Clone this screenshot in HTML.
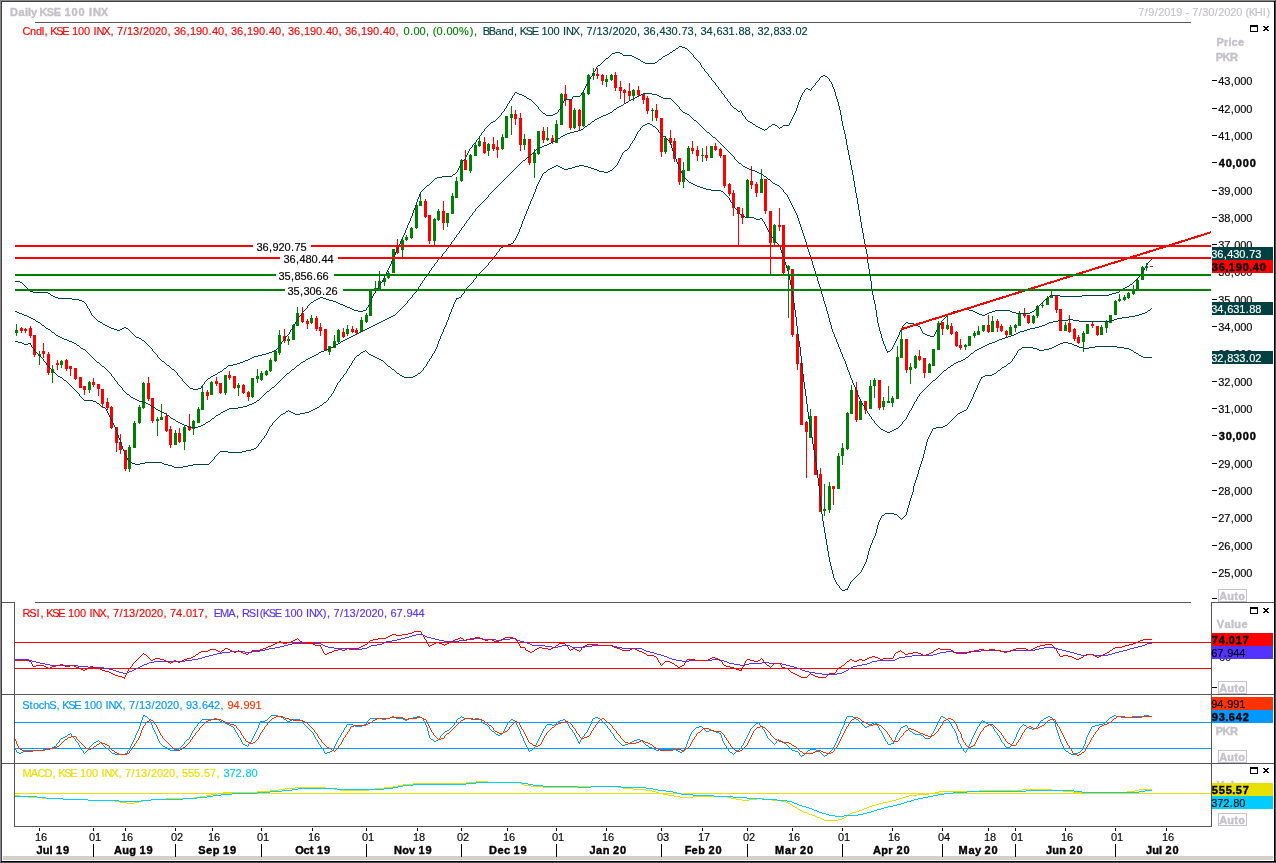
<!DOCTYPE html>
<html lang="en"><head><meta charset="utf-8"><title>Daily KSE 100 INX</title>
<style>html,body{margin:0;padding:0;background:#fff;overflow:hidden}svg{display:block}text{font-family:"Liberation Sans","DejaVu Sans",sans-serif;font-size:11px;white-space:pre}</style></head><body>
<svg width="1276" height="863" viewBox="0 0 1276 863">
<rect x="0" y="0" width="1276" height="863" fill="#ffffff"/>
<g shape-rendering="crispEdges">
<rect x="0" y="0" width="1276" height="1" fill="#8a868c"/>
<rect x="1" y="1" width="1275" height="1" fill="#404040"/>
<rect x="0" y="0" width="1" height="863" fill="#8a868c"/>
<rect x="1" y="1" width="1" height="862" fill="#404040"/>
<rect x="3" y="856" width="1270" height="4" fill="#d4d0c8"/>
<rect x="1274" y="1" width="1" height="862" fill="#000000"/>
<rect x="1275" y="0" width="1" height="863" fill="#4c4a58"/>
<rect x="1" y="861" width="1275" height="1" fill="#000000"/>
<rect x="0" y="862" width="1276" height="1" fill="#4c4a58"/>
<rect x="35" y="22" width="1156" height="1" fill="#555555"/>
<rect x="2" y="602" width="13" height="1" fill="#555555"/>
<rect x="35" y="602" width="1156" height="1" fill="#555555"/>
<rect x="1211" y="602" width="63" height="1" fill="#555555"/>
<rect x="2" y="694" width="1272" height="1" fill="#555555"/>
<rect x="2" y="763" width="1272" height="1" fill="#555555"/>
<rect x="14" y="826" width="1198" height="1" fill="#555555"/>
<rect x="14" y="602" width="1" height="225" fill="#555555"/>
<rect x="1211" y="602" width="1" height="225" fill="#555555"/>
</g>
<g shape-rendering="crispEdges">
<rect x="16" y="324" width="1" height="12" fill="#008000"/>
<rect x="15" y="330" width="3" height="3" fill="#008000"/>
<rect x="21" y="327" width="1" height="6" fill="#ff0000"/>
<rect x="20" y="328" width="3" height="3" fill="#ff0000"/>
<rect x="25" y="328" width="1" height="5" fill="#ff0000"/>
<rect x="24" y="329" width="3" height="2" fill="#ff0000"/>
<rect x="30" y="326" width="1" height="12" fill="#ff0000"/>
<rect x="29" y="328" width="3" height="8" fill="#ff0000"/>
<rect x="34" y="335" width="1" height="22" fill="#ff0000"/>
<rect x="33" y="335" width="3" height="20" fill="#ff0000"/>
<rect x="39" y="351" width="1" height="14" fill="#008000"/>
<rect x="38" y="354" width="3" height="2" fill="#008000"/>
<rect x="43" y="343" width="1" height="15" fill="#ff0000"/>
<rect x="42" y="351" width="3" height="3" fill="#ff0000"/>
<rect x="48" y="352" width="1" height="23" fill="#ff0000"/>
<rect x="47" y="354" width="3" height="19" fill="#ff0000"/>
<rect x="52" y="365" width="1" height="18" fill="#008000"/>
<rect x="51" y="369" width="3" height="4" fill="#008000"/>
<rect x="57" y="360" width="1" height="10" fill="#ff0000"/>
<rect x="56" y="363" width="3" height="2" fill="#ff0000"/>
<rect x="61" y="360" width="1" height="8" fill="#008000"/>
<rect x="60" y="361" width="3" height="4" fill="#008000"/>
<rect x="66" y="359" width="1" height="12" fill="#ff0000"/>
<rect x="65" y="360" width="3" height="9" fill="#ff0000"/>
<rect x="70" y="366" width="1" height="10" fill="#ff0000"/>
<rect x="69" y="366" width="3" height="3" fill="#ff0000"/>
<rect x="75" y="368" width="1" height="12" fill="#ff0000"/>
<rect x="74" y="368" width="3" height="11" fill="#ff0000"/>
<rect x="80" y="377" width="1" height="11" fill="#ff0000"/>
<rect x="79" y="377" width="3" height="11" fill="#ff0000"/>
<rect x="84" y="386" width="1" height="9" fill="#ff0000"/>
<rect x="83" y="386" width="3" height="4" fill="#ff0000"/>
<rect x="89" y="381" width="1" height="12" fill="#008000"/>
<rect x="88" y="382" width="3" height="8" fill="#008000"/>
<rect x="93" y="378" width="1" height="9" fill="#ff0000"/>
<rect x="92" y="382" width="3" height="3" fill="#ff0000"/>
<rect x="98" y="384" width="1" height="12" fill="#ff0000"/>
<rect x="97" y="384" width="3" height="5" fill="#ff0000"/>
<rect x="102" y="389" width="1" height="19" fill="#ff0000"/>
<rect x="101" y="389" width="3" height="15" fill="#ff0000"/>
<rect x="107" y="398" width="1" height="12" fill="#ff0000"/>
<rect x="106" y="402" width="3" height="6" fill="#ff0000"/>
<rect x="111" y="406" width="1" height="23" fill="#ff0000"/>
<rect x="110" y="407" width="3" height="21" fill="#ff0000"/>
<rect x="116" y="427" width="1" height="25" fill="#ff0000"/>
<rect x="115" y="427" width="3" height="16" fill="#ff0000"/>
<rect x="120" y="434" width="1" height="20" fill="#ff0000"/>
<rect x="119" y="442" width="3" height="8" fill="#ff0000"/>
<rect x="125" y="450" width="1" height="21" fill="#ff0000"/>
<rect x="124" y="450" width="3" height="19" fill="#ff0000"/>
<rect x="129" y="445" width="1" height="27" fill="#008000"/>
<rect x="128" y="447" width="3" height="22" fill="#008000"/>
<rect x="134" y="421" width="1" height="27" fill="#008000"/>
<rect x="133" y="423" width="3" height="25" fill="#008000"/>
<rect x="139" y="405" width="1" height="19" fill="#008000"/>
<rect x="138" y="407" width="3" height="16" fill="#008000"/>
<rect x="143" y="382" width="1" height="27" fill="#008000"/>
<rect x="142" y="383" width="3" height="25" fill="#008000"/>
<rect x="148" y="377" width="1" height="24" fill="#ff0000"/>
<rect x="147" y="383" width="3" height="16" fill="#ff0000"/>
<rect x="152" y="398" width="1" height="25" fill="#ff0000"/>
<rect x="151" y="398" width="3" height="23" fill="#ff0000"/>
<rect x="157" y="417" width="1" height="19" fill="#008000"/>
<rect x="156" y="419" width="3" height="2" fill="#008000"/>
<rect x="161" y="404" width="1" height="16" fill="#008000"/>
<rect x="160" y="417" width="3" height="3" fill="#008000"/>
<rect x="166" y="413" width="1" height="19" fill="#ff0000"/>
<rect x="165" y="416" width="3" height="15" fill="#ff0000"/>
<rect x="170" y="426" width="1" height="22" fill="#ff0000"/>
<rect x="169" y="429" width="3" height="16" fill="#ff0000"/>
<rect x="175" y="430" width="1" height="15" fill="#008000"/>
<rect x="174" y="433" width="3" height="12" fill="#008000"/>
<rect x="179" y="428" width="1" height="15" fill="#ff0000"/>
<rect x="178" y="433" width="3" height="9" fill="#ff0000"/>
<rect x="184" y="425" width="1" height="25" fill="#008000"/>
<rect x="183" y="427" width="3" height="15" fill="#008000"/>
<rect x="189" y="414" width="1" height="17" fill="#ff0000"/>
<rect x="188" y="426" width="3" height="4" fill="#ff0000"/>
<rect x="193" y="420" width="1" height="15" fill="#008000"/>
<rect x="192" y="421" width="3" height="8" fill="#008000"/>
<rect x="198" y="407" width="1" height="16" fill="#008000"/>
<rect x="197" y="409" width="3" height="14" fill="#008000"/>
<rect x="202" y="386" width="1" height="24" fill="#008000"/>
<rect x="201" y="392" width="3" height="18" fill="#008000"/>
<rect x="207" y="390" width="1" height="10" fill="#ff0000"/>
<rect x="206" y="392" width="3" height="4" fill="#ff0000"/>
<rect x="211" y="381" width="1" height="14" fill="#008000"/>
<rect x="210" y="382" width="3" height="13" fill="#008000"/>
<rect x="216" y="377" width="1" height="9" fill="#ff0000"/>
<rect x="215" y="381" width="3" height="3" fill="#ff0000"/>
<rect x="220" y="383" width="1" height="11" fill="#ff0000"/>
<rect x="219" y="383" width="3" height="10" fill="#ff0000"/>
<rect x="225" y="375" width="1" height="20" fill="#008000"/>
<rect x="224" y="375" width="3" height="18" fill="#008000"/>
<rect x="229" y="371" width="1" height="9" fill="#ff0000"/>
<rect x="228" y="375" width="3" height="3" fill="#ff0000"/>
<rect x="234" y="376" width="1" height="13" fill="#ff0000"/>
<rect x="233" y="376" width="3" height="12" fill="#ff0000"/>
<rect x="238" y="383" width="1" height="13" fill="#008000"/>
<rect x="237" y="385" width="3" height="3" fill="#008000"/>
<rect x="243" y="384" width="1" height="10" fill="#ff0000"/>
<rect x="242" y="385" width="3" height="8" fill="#ff0000"/>
<rect x="248" y="391" width="1" height="10" fill="#ff0000"/>
<rect x="247" y="392" width="3" height="5" fill="#ff0000"/>
<rect x="252" y="378" width="1" height="20" fill="#008000"/>
<rect x="251" y="378" width="3" height="19" fill="#008000"/>
<rect x="257" y="369" width="1" height="14" fill="#008000"/>
<rect x="256" y="376" width="3" height="3" fill="#008000"/>
<rect x="261" y="371" width="1" height="10" fill="#008000"/>
<rect x="260" y="373" width="3" height="7" fill="#008000"/>
<rect x="266" y="370" width="1" height="6" fill="#008000"/>
<rect x="265" y="371" width="3" height="4" fill="#008000"/>
<rect x="270" y="358" width="1" height="14" fill="#008000"/>
<rect x="269" y="360" width="3" height="11" fill="#008000"/>
<rect x="275" y="351" width="1" height="11" fill="#008000"/>
<rect x="274" y="351" width="3" height="10" fill="#008000"/>
<rect x="279" y="330" width="1" height="25" fill="#008000"/>
<rect x="278" y="335" width="3" height="18" fill="#008000"/>
<rect x="284" y="329" width="1" height="14" fill="#ff0000"/>
<rect x="283" y="336" width="3" height="5" fill="#ff0000"/>
<rect x="288" y="336" width="1" height="9" fill="#008000"/>
<rect x="287" y="339" width="3" height="2" fill="#008000"/>
<rect x="293" y="324" width="1" height="16" fill="#008000"/>
<rect x="292" y="325" width="3" height="15" fill="#008000"/>
<rect x="297" y="307" width="1" height="19" fill="#008000"/>
<rect x="296" y="313" width="3" height="13" fill="#008000"/>
<rect x="302" y="307" width="1" height="16" fill="#ff0000"/>
<rect x="301" y="313" width="3" height="9" fill="#ff0000"/>
<rect x="307" y="319" width="1" height="10" fill="#ff0000"/>
<rect x="306" y="321" width="3" height="3" fill="#ff0000"/>
<rect x="311" y="315" width="1" height="9" fill="#008000"/>
<rect x="310" y="318" width="3" height="5" fill="#008000"/>
<rect x="316" y="316" width="1" height="15" fill="#ff0000"/>
<rect x="315" y="318" width="3" height="11" fill="#ff0000"/>
<rect x="320" y="323" width="1" height="13" fill="#ff0000"/>
<rect x="319" y="327" width="3" height="4" fill="#ff0000"/>
<rect x="325" y="329" width="1" height="22" fill="#ff0000"/>
<rect x="324" y="329" width="3" height="22" fill="#ff0000"/>
<rect x="329" y="346" width="1" height="9" fill="#008000"/>
<rect x="328" y="346" width="3" height="6" fill="#008000"/>
<rect x="334" y="335" width="1" height="13" fill="#008000"/>
<rect x="333" y="341" width="3" height="7" fill="#008000"/>
<rect x="338" y="329" width="1" height="14" fill="#008000"/>
<rect x="337" y="330" width="3" height="12" fill="#008000"/>
<rect x="343" y="328" width="1" height="10" fill="#ff0000"/>
<rect x="342" y="332" width="3" height="5" fill="#ff0000"/>
<rect x="347" y="325" width="1" height="11" fill="#008000"/>
<rect x="346" y="329" width="3" height="5" fill="#008000"/>
<rect x="352" y="326" width="1" height="7" fill="#ff0000"/>
<rect x="351" y="329" width="3" height="3" fill="#ff0000"/>
<rect x="356" y="328" width="1" height="7" fill="#ff0000"/>
<rect x="355" y="330" width="3" height="3" fill="#ff0000"/>
<rect x="361" y="317" width="1" height="15" fill="#008000"/>
<rect x="360" y="320" width="3" height="12" fill="#008000"/>
<rect x="366" y="313" width="1" height="10" fill="#008000"/>
<rect x="365" y="315" width="3" height="7" fill="#008000"/>
<rect x="370" y="290" width="1" height="26" fill="#008000"/>
<rect x="369" y="290" width="3" height="26" fill="#008000"/>
<rect x="375" y="281" width="1" height="12" fill="#008000"/>
<rect x="374" y="288" width="3" height="3" fill="#008000"/>
<rect x="379" y="271" width="1" height="19" fill="#008000"/>
<rect x="378" y="281" width="3" height="9" fill="#008000"/>
<rect x="384" y="276" width="1" height="10" fill="#008000"/>
<rect x="383" y="278" width="3" height="4" fill="#008000"/>
<rect x="388" y="271" width="1" height="8" fill="#008000"/>
<rect x="387" y="273" width="3" height="5" fill="#008000"/>
<rect x="393" y="249" width="1" height="24" fill="#008000"/>
<rect x="392" y="249" width="3" height="24" fill="#008000"/>
<rect x="397" y="239" width="1" height="15" fill="#ff0000"/>
<rect x="396" y="245" width="3" height="8" fill="#ff0000"/>
<rect x="402" y="239" width="1" height="18" fill="#008000"/>
<rect x="401" y="240" width="3" height="10" fill="#008000"/>
<rect x="406" y="235" width="1" height="6" fill="#008000"/>
<rect x="405" y="237" width="3" height="3" fill="#008000"/>
<rect x="411" y="227" width="1" height="12" fill="#008000"/>
<rect x="410" y="228" width="3" height="10" fill="#008000"/>
<rect x="416" y="204" width="1" height="25" fill="#008000"/>
<rect x="415" y="205" width="3" height="23" fill="#008000"/>
<rect x="420" y="194" width="1" height="12" fill="#008000"/>
<rect x="419" y="201" width="3" height="5" fill="#008000"/>
<rect x="425" y="199" width="1" height="19" fill="#ff0000"/>
<rect x="424" y="201" width="3" height="16" fill="#ff0000"/>
<rect x="429" y="215" width="1" height="29" fill="#ff0000"/>
<rect x="428" y="215" width="3" height="26" fill="#ff0000"/>
<rect x="434" y="218" width="1" height="27" fill="#008000"/>
<rect x="433" y="219" width="3" height="22" fill="#008000"/>
<rect x="438" y="209" width="1" height="12" fill="#008000"/>
<rect x="437" y="211" width="3" height="9" fill="#008000"/>
<rect x="443" y="201" width="1" height="29" fill="#ff0000"/>
<rect x="442" y="211" width="3" height="12" fill="#ff0000"/>
<rect x="447" y="213" width="1" height="14" fill="#008000"/>
<rect x="446" y="213" width="3" height="10" fill="#008000"/>
<rect x="452" y="193" width="1" height="21" fill="#008000"/>
<rect x="451" y="196" width="3" height="18" fill="#008000"/>
<rect x="456" y="177" width="1" height="21" fill="#008000"/>
<rect x="455" y="181" width="3" height="17" fill="#008000"/>
<rect x="461" y="159" width="1" height="23" fill="#008000"/>
<rect x="460" y="160" width="3" height="21" fill="#008000"/>
<rect x="465" y="150" width="1" height="20" fill="#ff0000"/>
<rect x="464" y="160" width="3" height="10" fill="#ff0000"/>
<rect x="470" y="154" width="1" height="19" fill="#008000"/>
<rect x="469" y="155" width="3" height="16" fill="#008000"/>
<rect x="475" y="143" width="1" height="13" fill="#008000"/>
<rect x="474" y="145" width="3" height="11" fill="#008000"/>
<rect x="479" y="136" width="1" height="11" fill="#008000"/>
<rect x="478" y="141" width="3" height="5" fill="#008000"/>
<rect x="484" y="137" width="1" height="17" fill="#ff0000"/>
<rect x="483" y="142" width="3" height="11" fill="#ff0000"/>
<rect x="488" y="143" width="1" height="13" fill="#008000"/>
<rect x="487" y="144" width="3" height="7" fill="#008000"/>
<rect x="493" y="137" width="1" height="14" fill="#ff0000"/>
<rect x="492" y="144" width="3" height="5" fill="#ff0000"/>
<rect x="497" y="140" width="1" height="18" fill="#ff0000"/>
<rect x="496" y="147" width="3" height="3" fill="#ff0000"/>
<rect x="502" y="134" width="1" height="16" fill="#008000"/>
<rect x="501" y="137" width="3" height="12" fill="#008000"/>
<rect x="506" y="116" width="1" height="22" fill="#008000"/>
<rect x="505" y="116" width="3" height="22" fill="#008000"/>
<rect x="511" y="106" width="1" height="29" fill="#008000"/>
<rect x="510" y="114" width="3" height="4" fill="#008000"/>
<rect x="515" y="110" width="1" height="15" fill="#ff0000"/>
<rect x="514" y="114" width="3" height="5" fill="#ff0000"/>
<rect x="520" y="113" width="1" height="38" fill="#ff0000"/>
<rect x="519" y="118" width="3" height="27" fill="#ff0000"/>
<rect x="524" y="134" width="1" height="16" fill="#008000"/>
<rect x="523" y="139" width="3" height="6" fill="#008000"/>
<rect x="529" y="139" width="1" height="26" fill="#ff0000"/>
<rect x="528" y="139" width="3" height="24" fill="#ff0000"/>
<rect x="534" y="149" width="1" height="29" fill="#008000"/>
<rect x="533" y="153" width="3" height="10" fill="#008000"/>
<rect x="538" y="131" width="1" height="24" fill="#008000"/>
<rect x="537" y="131" width="3" height="23" fill="#008000"/>
<rect x="543" y="127" width="1" height="16" fill="#ff0000"/>
<rect x="542" y="131" width="3" height="9" fill="#ff0000"/>
<rect x="547" y="127" width="1" height="14" fill="#008000"/>
<rect x="546" y="138" width="3" height="2" fill="#008000"/>
<rect x="552" y="135" width="1" height="9" fill="#ff0000"/>
<rect x="551" y="138" width="3" height="4" fill="#ff0000"/>
<rect x="556" y="120" width="1" height="23" fill="#008000"/>
<rect x="555" y="124" width="3" height="19" fill="#008000"/>
<rect x="561" y="93" width="1" height="32" fill="#008000"/>
<rect x="560" y="94" width="3" height="31" fill="#008000"/>
<rect x="565" y="85" width="1" height="21" fill="#ff0000"/>
<rect x="564" y="94" width="3" height="6" fill="#ff0000"/>
<rect x="570" y="99" width="1" height="31" fill="#ff0000"/>
<rect x="569" y="99" width="3" height="29" fill="#ff0000"/>
<rect x="574" y="108" width="1" height="21" fill="#008000"/>
<rect x="573" y="110" width="3" height="18" fill="#008000"/>
<rect x="579" y="109" width="1" height="22" fill="#ff0000"/>
<rect x="578" y="110" width="3" height="16" fill="#ff0000"/>
<rect x="583" y="92" width="1" height="35" fill="#008000"/>
<rect x="582" y="93" width="3" height="33" fill="#008000"/>
<rect x="588" y="74" width="1" height="21" fill="#008000"/>
<rect x="587" y="75" width="3" height="19" fill="#008000"/>
<rect x="593" y="68" width="1" height="12" fill="#008000"/>
<rect x="592" y="73" width="3" height="3" fill="#008000"/>
<rect x="597" y="68" width="1" height="11" fill="#ff0000"/>
<rect x="596" y="74" width="3" height="2" fill="#ff0000"/>
<rect x="602" y="74" width="1" height="11" fill="#ff0000"/>
<rect x="601" y="75" width="3" height="6" fill="#ff0000"/>
<rect x="606" y="75" width="1" height="12" fill="#008000"/>
<rect x="605" y="79" width="3" height="3" fill="#008000"/>
<rect x="611" y="74" width="1" height="7" fill="#008000"/>
<rect x="610" y="75" width="3" height="5" fill="#008000"/>
<rect x="615" y="72" width="1" height="19" fill="#ff0000"/>
<rect x="614" y="75" width="3" height="13" fill="#ff0000"/>
<rect x="620" y="81" width="1" height="18" fill="#ff0000"/>
<rect x="619" y="87" width="3" height="4" fill="#ff0000"/>
<rect x="624" y="89" width="1" height="14" fill="#ff0000"/>
<rect x="623" y="90" width="3" height="3" fill="#ff0000"/>
<rect x="629" y="83" width="1" height="17" fill="#ff0000"/>
<rect x="628" y="91" width="3" height="5" fill="#ff0000"/>
<rect x="633" y="89" width="1" height="12" fill="#008000"/>
<rect x="632" y="90" width="3" height="6" fill="#008000"/>
<rect x="638" y="86" width="1" height="10" fill="#ff0000"/>
<rect x="637" y="90" width="3" height="5" fill="#ff0000"/>
<rect x="643" y="93" width="1" height="11" fill="#ff0000"/>
<rect x="642" y="94" width="3" height="6" fill="#ff0000"/>
<rect x="647" y="96" width="1" height="18" fill="#ff0000"/>
<rect x="646" y="98" width="3" height="13" fill="#ff0000"/>
<rect x="652" y="108" width="1" height="13" fill="#008000"/>
<rect x="651" y="110" width="3" height="1" fill="#008000"/>
<rect x="656" y="104" width="1" height="17" fill="#ff0000"/>
<rect x="655" y="110" width="3" height="8" fill="#ff0000"/>
<rect x="661" y="118" width="1" height="39" fill="#ff0000"/>
<rect x="660" y="118" width="3" height="34" fill="#ff0000"/>
<rect x="665" y="136" width="1" height="18" fill="#008000"/>
<rect x="664" y="138" width="3" height="14" fill="#008000"/>
<rect x="670" y="130" width="1" height="15" fill="#ff0000"/>
<rect x="669" y="138" width="3" height="5" fill="#ff0000"/>
<rect x="674" y="138" width="1" height="24" fill="#ff0000"/>
<rect x="673" y="141" width="3" height="18" fill="#ff0000"/>
<rect x="679" y="158" width="1" height="27" fill="#ff0000"/>
<rect x="678" y="158" width="3" height="24" fill="#ff0000"/>
<rect x="683" y="162" width="1" height="26" fill="#008000"/>
<rect x="682" y="170" width="3" height="12" fill="#008000"/>
<rect x="688" y="146" width="1" height="25" fill="#008000"/>
<rect x="687" y="148" width="3" height="23" fill="#008000"/>
<rect x="692" y="141" width="1" height="13" fill="#ff0000"/>
<rect x="691" y="148" width="3" height="3" fill="#ff0000"/>
<rect x="697" y="146" width="1" height="15" fill="#ff0000"/>
<rect x="696" y="150" width="3" height="6" fill="#ff0000"/>
<rect x="702" y="148" width="1" height="14" fill="#008000"/>
<rect x="701" y="155" width="3" height="1" fill="#008000"/>
<rect x="706" y="146" width="1" height="15" fill="#ff0000"/>
<rect x="705" y="155" width="3" height="3" fill="#ff0000"/>
<rect x="711" y="146" width="1" height="12" fill="#008000"/>
<rect x="710" y="146" width="3" height="12" fill="#008000"/>
<rect x="715" y="143" width="1" height="8" fill="#ff0000"/>
<rect x="714" y="146" width="3" height="4" fill="#ff0000"/>
<rect x="720" y="148" width="1" height="10" fill="#ff0000"/>
<rect x="719" y="149" width="3" height="7" fill="#ff0000"/>
<rect x="724" y="155" width="1" height="33" fill="#ff0000"/>
<rect x="723" y="155" width="3" height="31" fill="#ff0000"/>
<rect x="729" y="183" width="1" height="13" fill="#ff0000"/>
<rect x="728" y="184" width="3" height="10" fill="#ff0000"/>
<rect x="733" y="190" width="1" height="26" fill="#ff0000"/>
<rect x="732" y="193" width="3" height="15" fill="#ff0000"/>
<rect x="738" y="207" width="1" height="38" fill="#ff0000"/>
<rect x="737" y="207" width="3" height="7" fill="#ff0000"/>
<rect x="742" y="208" width="1" height="16" fill="#ff0000"/>
<rect x="741" y="214" width="3" height="4" fill="#ff0000"/>
<rect x="747" y="179" width="1" height="39" fill="#008000"/>
<rect x="746" y="180" width="3" height="37" fill="#008000"/>
<rect x="751" y="166" width="1" height="23" fill="#ff0000"/>
<rect x="750" y="181" width="3" height="4" fill="#ff0000"/>
<rect x="756" y="182" width="1" height="15" fill="#ff0000"/>
<rect x="755" y="184" width="3" height="9" fill="#ff0000"/>
<rect x="761" y="169" width="1" height="24" fill="#008000"/>
<rect x="760" y="179" width="3" height="14" fill="#008000"/>
<rect x="765" y="179" width="1" height="35" fill="#ff0000"/>
<rect x="764" y="179" width="3" height="32" fill="#ff0000"/>
<rect x="770" y="211" width="1" height="63" fill="#ff0000"/>
<rect x="769" y="211" width="3" height="32" fill="#ff0000"/>
<rect x="774" y="224" width="1" height="21" fill="#008000"/>
<rect x="773" y="225" width="3" height="18" fill="#008000"/>
<rect x="779" y="208" width="1" height="23" fill="#ff0000"/>
<rect x="778" y="225" width="3" height="2" fill="#ff0000"/>
<rect x="783" y="225" width="1" height="49" fill="#ff0000"/>
<rect x="782" y="225" width="3" height="48" fill="#ff0000"/>
<rect x="788" y="265" width="1" height="53" fill="#008000"/>
<rect x="787" y="266" width="3" height="4" fill="#008000"/>
<rect x="792" y="269" width="1" height="68" fill="#ff0000"/>
<rect x="791" y="269" width="3" height="66" fill="#ff0000"/>
<rect x="797" y="334" width="1" height="36" fill="#ff0000"/>
<rect x="796" y="334" width="3" height="30" fill="#ff0000"/>
<rect x="801" y="363" width="1" height="62" fill="#ff0000"/>
<rect x="800" y="363" width="3" height="62" fill="#ff0000"/>
<rect x="806" y="421" width="1" height="57" fill="#ff0000"/>
<rect x="805" y="422" width="3" height="10" fill="#ff0000"/>
<rect x="810" y="409" width="1" height="29" fill="#008000"/>
<rect x="809" y="416" width="3" height="22" fill="#008000"/>
<rect x="815" y="416" width="1" height="59" fill="#ff0000"/>
<rect x="814" y="416" width="3" height="59" fill="#ff0000"/>
<rect x="820" y="468" width="1" height="44" fill="#ff0000"/>
<rect x="819" y="474" width="3" height="38" fill="#ff0000"/>
<rect x="824" y="484" width="1" height="32" fill="#008000"/>
<rect x="823" y="509" width="3" height="2" fill="#008000"/>
<rect x="829" y="482" width="1" height="31" fill="#008000"/>
<rect x="828" y="486" width="3" height="24" fill="#008000"/>
<rect x="833" y="486" width="1" height="19" fill="#ff0000"/>
<rect x="832" y="486" width="3" height="3" fill="#ff0000"/>
<rect x="838" y="453" width="1" height="36" fill="#008000"/>
<rect x="837" y="456" width="3" height="33" fill="#008000"/>
<rect x="842" y="443" width="1" height="22" fill="#008000"/>
<rect x="841" y="448" width="3" height="8" fill="#008000"/>
<rect x="847" y="412" width="1" height="38" fill="#008000"/>
<rect x="846" y="413" width="3" height="36" fill="#008000"/>
<rect x="851" y="385" width="1" height="29" fill="#008000"/>
<rect x="850" y="390" width="3" height="24" fill="#008000"/>
<rect x="856" y="382" width="1" height="40" fill="#ff0000"/>
<rect x="855" y="390" width="3" height="30" fill="#ff0000"/>
<rect x="860" y="401" width="1" height="19" fill="#008000"/>
<rect x="859" y="401" width="3" height="19" fill="#008000"/>
<rect x="865" y="401" width="1" height="13" fill="#ff0000"/>
<rect x="864" y="401" width="3" height="9" fill="#ff0000"/>
<rect x="870" y="380" width="1" height="29" fill="#008000"/>
<rect x="869" y="386" width="3" height="23" fill="#008000"/>
<rect x="874" y="378" width="1" height="20" fill="#008000"/>
<rect x="873" y="380" width="3" height="6" fill="#008000"/>
<rect x="879" y="380" width="1" height="30" fill="#ff0000"/>
<rect x="878" y="380" width="3" height="28" fill="#ff0000"/>
<rect x="883" y="397" width="1" height="13" fill="#008000"/>
<rect x="882" y="401" width="3" height="6" fill="#008000"/>
<rect x="888" y="386" width="1" height="17" fill="#008000"/>
<rect x="887" y="401" width="3" height="2" fill="#008000"/>
<rect x="892" y="396" width="1" height="11" fill="#008000"/>
<rect x="891" y="398" width="3" height="5" fill="#008000"/>
<rect x="897" y="346" width="1" height="53" fill="#008000"/>
<rect x="896" y="357" width="3" height="42" fill="#008000"/>
<rect x="901" y="330" width="1" height="28" fill="#008000"/>
<rect x="900" y="339" width="3" height="19" fill="#008000"/>
<rect x="906" y="339" width="1" height="34" fill="#ff0000"/>
<rect x="905" y="339" width="3" height="31" fill="#ff0000"/>
<rect x="910" y="363" width="1" height="21" fill="#008000"/>
<rect x="909" y="367" width="3" height="3" fill="#008000"/>
<rect x="915" y="355" width="1" height="14" fill="#008000"/>
<rect x="914" y="356" width="3" height="12" fill="#008000"/>
<rect x="919" y="350" width="1" height="11" fill="#ff0000"/>
<rect x="918" y="356" width="3" height="4" fill="#ff0000"/>
<rect x="924" y="358" width="1" height="20" fill="#ff0000"/>
<rect x="923" y="358" width="3" height="15" fill="#ff0000"/>
<rect x="929" y="363" width="1" height="10" fill="#008000"/>
<rect x="928" y="364" width="3" height="9" fill="#008000"/>
<rect x="933" y="349" width="1" height="17" fill="#008000"/>
<rect x="932" y="349" width="3" height="17" fill="#008000"/>
<rect x="938" y="321" width="1" height="29" fill="#008000"/>
<rect x="937" y="323" width="3" height="27" fill="#008000"/>
<rect x="942" y="322" width="1" height="13" fill="#ff0000"/>
<rect x="941" y="322" width="3" height="7" fill="#ff0000"/>
<rect x="947" y="315" width="1" height="15" fill="#008000"/>
<rect x="946" y="325" width="3" height="4" fill="#008000"/>
<rect x="951" y="323" width="1" height="12" fill="#ff0000"/>
<rect x="950" y="326" width="3" height="8" fill="#ff0000"/>
<rect x="956" y="331" width="1" height="16" fill="#ff0000"/>
<rect x="955" y="332" width="3" height="14" fill="#ff0000"/>
<rect x="960" y="339" width="1" height="11" fill="#ff0000"/>
<rect x="959" y="345" width="3" height="3" fill="#ff0000"/>
<rect x="965" y="344" width="1" height="6" fill="#008000"/>
<rect x="964" y="345" width="3" height="2" fill="#008000"/>
<rect x="969" y="336" width="1" height="10" fill="#008000"/>
<rect x="968" y="336" width="3" height="10" fill="#008000"/>
<rect x="974" y="331" width="1" height="7" fill="#008000"/>
<rect x="973" y="333" width="3" height="3" fill="#008000"/>
<rect x="978" y="326" width="1" height="9" fill="#008000"/>
<rect x="977" y="331" width="3" height="4" fill="#008000"/>
<rect x="983" y="325" width="1" height="7" fill="#008000"/>
<rect x="982" y="325" width="3" height="6" fill="#008000"/>
<rect x="988" y="315" width="1" height="18" fill="#ff0000"/>
<rect x="987" y="325" width="3" height="7" fill="#ff0000"/>
<rect x="992" y="316" width="1" height="16" fill="#008000"/>
<rect x="991" y="321" width="3" height="11" fill="#008000"/>
<rect x="997" y="319" width="1" height="13" fill="#ff0000"/>
<rect x="996" y="321" width="3" height="7" fill="#ff0000"/>
<rect x="1001" y="324" width="1" height="8" fill="#ff0000"/>
<rect x="1000" y="326" width="3" height="5" fill="#ff0000"/>
<rect x="1006" y="330" width="1" height="8" fill="#ff0000"/>
<rect x="1005" y="331" width="3" height="4" fill="#ff0000"/>
<rect x="1010" y="325" width="1" height="10" fill="#008000"/>
<rect x="1009" y="327" width="3" height="8" fill="#008000"/>
<rect x="1015" y="324" width="1" height="8" fill="#008000"/>
<rect x="1014" y="325" width="3" height="3" fill="#008000"/>
<rect x="1019" y="311" width="1" height="15" fill="#008000"/>
<rect x="1018" y="314" width="3" height="12" fill="#008000"/>
<rect x="1024" y="308" width="1" height="10" fill="#ff0000"/>
<rect x="1023" y="314" width="3" height="2" fill="#ff0000"/>
<rect x="1028" y="315" width="1" height="9" fill="#ff0000"/>
<rect x="1027" y="315" width="3" height="8" fill="#ff0000"/>
<rect x="1033" y="315" width="1" height="9" fill="#008000"/>
<rect x="1032" y="316" width="3" height="7" fill="#008000"/>
<rect x="1037" y="305" width="1" height="13" fill="#008000"/>
<rect x="1036" y="306" width="3" height="10" fill="#008000"/>
<rect x="1042" y="303" width="1" height="5" fill="#008000"/>
<rect x="1041" y="305" width="3" height="1" fill="#008000"/>
<rect x="1047" y="296" width="1" height="9" fill="#008000"/>
<rect x="1046" y="298" width="3" height="7" fill="#008000"/>
<rect x="1051" y="291" width="1" height="7" fill="#008000"/>
<rect x="1050" y="296" width="3" height="2" fill="#008000"/>
<rect x="1056" y="296" width="1" height="17" fill="#ff0000"/>
<rect x="1055" y="296" width="3" height="14" fill="#ff0000"/>
<rect x="1060" y="309" width="1" height="22" fill="#ff0000"/>
<rect x="1059" y="309" width="3" height="22" fill="#ff0000"/>
<rect x="1065" y="322" width="1" height="9" fill="#008000"/>
<rect x="1064" y="325" width="3" height="6" fill="#008000"/>
<rect x="1069" y="315" width="1" height="18" fill="#ff0000"/>
<rect x="1068" y="323" width="3" height="9" fill="#ff0000"/>
<rect x="1074" y="328" width="1" height="13" fill="#ff0000"/>
<rect x="1073" y="329" width="3" height="10" fill="#ff0000"/>
<rect x="1078" y="335" width="1" height="9" fill="#ff0000"/>
<rect x="1077" y="337" width="3" height="6" fill="#ff0000"/>
<rect x="1083" y="331" width="1" height="21" fill="#008000"/>
<rect x="1082" y="333" width="3" height="9" fill="#008000"/>
<rect x="1087" y="324" width="1" height="10" fill="#008000"/>
<rect x="1086" y="324" width="3" height="10" fill="#008000"/>
<rect x="1092" y="321" width="1" height="7" fill="#ff0000"/>
<rect x="1091" y="324" width="3" height="2" fill="#ff0000"/>
<rect x="1097" y="326" width="1" height="10" fill="#ff0000"/>
<rect x="1096" y="326" width="3" height="9" fill="#ff0000"/>
<rect x="1101" y="325" width="1" height="10" fill="#008000"/>
<rect x="1100" y="327" width="3" height="8" fill="#008000"/>
<rect x="1106" y="320" width="1" height="13" fill="#008000"/>
<rect x="1105" y="321" width="3" height="7" fill="#008000"/>
<rect x="1110" y="315" width="1" height="8" fill="#008000"/>
<rect x="1109" y="315" width="3" height="8" fill="#008000"/>
<rect x="1115" y="300" width="1" height="15" fill="#008000"/>
<rect x="1114" y="301" width="3" height="14" fill="#008000"/>
<rect x="1119" y="294" width="1" height="8" fill="#008000"/>
<rect x="1118" y="299" width="3" height="2" fill="#008000"/>
<rect x="1124" y="295" width="1" height="6" fill="#008000"/>
<rect x="1123" y="297" width="3" height="3" fill="#008000"/>
<rect x="1128" y="292" width="1" height="7" fill="#008000"/>
<rect x="1127" y="293" width="3" height="5" fill="#008000"/>
<rect x="1133" y="285" width="1" height="10" fill="#008000"/>
<rect x="1132" y="289" width="3" height="5" fill="#008000"/>
<rect x="1137" y="279" width="1" height="11" fill="#008000"/>
<rect x="1136" y="280" width="3" height="10" fill="#008000"/>
<rect x="1142" y="266" width="1" height="14" fill="#008000"/>
<rect x="1141" y="267" width="3" height="13" fill="#008000"/>
<rect x="1146" y="263" width="1" height="8" fill="#008000"/>
<rect x="1145" y="266" width="3" height="2" fill="#008000"/>
<rect x="1150" y="266" width="3" height="1" fill="#ff0000"/>
</g>
<g shape-rendering="crispEdges">
<path d="M679 46.5h3m0 1h3m-9 1h2m7 0h2m-14 2h2m-60 2h5m50 0h2m-60 1h3m5 0h2m45 1h2m-46 1h9m33 0h2m-35 1h2m29 0h2m-31 1h2m-30 1h2m28 0h2m0 1h2m19 0h2m-20 2h2m0 1h2m10 0h2m-12 1h10m-57 2h2m223 10h2m-4 1h2m2 0h2m-21 12h2m0 1h2m-295 3h2m0 1h2m124 0h9m-133 1h3m119 0h2m9 0h5m-135 1h2m115 0h2m16 0h2m-135 1h2m47 0h7m57 0h2m20 0h2m-26 1h2m24 0h2m-136 1h2m104 0h2m28 0h8m-142 1h2m33 0h8m59 0h2m-4 1h2m-5 2h2m-4 1h2m-5 2h2m-4 1h2m-4 1h2m115 1h2m-122 1h2m122 2h2m-130 1h2m71 0h2m-142 1h2m10 0h2m51 0h2m75 0h2m-134 1h2m51 0h2m79 0h2m-143 1h7m50 0h3m-5 1h2m-4 1h2m-4 1h2m-4 1h2m97 1h2m-203 1h2m97 0h2m154 0h2m-259 1h2m257 0h2m-105 1h3m-62 1h2m55 0h2m3 0h2m101 0h2m17 0h3m-132 1h2m130 0h2m6 0h6m-204 1h2m66 0h2m101 0h2m11 0h2m-13 1h2m20 0h2m-22 1h2m-181 1h2m179 0h2m1 0h2m-189 1h3m-7 1h4m-8 1h4m133 0h2m-142 1h3m-5 1h2m-4 1h2m-4 1h2m100 0h2m48 1h2m-157 1h2m-5 2h2m-4 1h2m-4 1h2m-4 1h2m-4 1h2m-5 1h3m-5 1h2m-5 1h3m-5 1h2m86 2h2m-100 7h2m-6 3h2m214 3h2m-185 2h2m21 0h5m-30 1h2m2 0h2m15 0h4m5 0h4m155 0h2m-193 1h2m6 0h2m10 0h3m13 0h3m154 0h2m-197 1h2m10 0h2m4 0h4m19 0h3m153 0h2m-201 1h2m14 0h4m26 0h3m152 0h3m-155 1h2m11 0h2m140 0h3m-156 1h5m4 0h2m145 0h2m-213 1h2m58 0h4m149 0h2m0 1h2m-308 1h2m306 0h2m-321 2h10m312 0h2m-329 1h5m-7 1h2m331 1h2m-81 3h2m0 1h2m80 0h2m-82 1h2m80 0h2m-350 1h2m266 0h2m80 0h2m-82 1h3m0 1h3m0 1h3m0 1h5m0 1h10m0 1h2m19 25h3m0 1h9m0 1h2m4 0h2m-6 1h4m-249 24h2m-5 1h3m-5 1h2m-5 1h3m-5 1h2m-488 34h5m0 1h2m1108 2h2m-5 2h2m-4 1h2m-4 1h2m-5 2h2m-1092 1h3m0 1h15m1068 0h3m-1071 1h2m1062 0h4m-7 1h3m-1061 1h2m997 0h10m22 0h27m-1056 1h2m1005 0h22m-1027 1h3m262 0h3m136 0h2m-403 1h14m246 0h2m3 0h3m130 0h3m-387 1h7m237 0h2m8 0h3m716 0h2m-968 1h3m232 0h2m13 0h4m-251 1h2m249 0h3m-25 1h2m23 0h2m0 1h2m0 1h3m0 1h2m0 1h2m0 1h3m0 1h2m0 1h2m608 0h7m-615 1h4m5 0h3m591 0h5m7 0h4m22 0h15m138 0h2m-1135 1h2m341 0h5m590 0h4m16 0h2m17 0h3m15 0h2m20 0h2m-1017 1h2m932 0h2m22 0h2m12 0h3m20 0h4m14 0h2m113 0h2m-1128 1h3m955 0h2m8 0h2m27 0h14m112 0h3m-1123 1h2m924 0h2m29 0h3m3 0h2m152 0h3m-1118 1h3m366 0h2m587 0h3m150 0h4m-1112 1h2m362 0h2m736 0h6m-1106 1h2m358 0h2m731 0h7m-1098 1h2m354 0h2m728 0h5m-1089 1h2m350 0h2m681 0h5m41 0h3m-734 1h2m673 0h10m5 0h6m31 0h4m-1078 1h2m60 0h2m281 0h2m670 0h5m21 0h31m-1072 1h2m60 0h2m277 0h2m525 0h2m141 0h4m-676 1h2m529 0h6m133 0h2m-946 1h2m270 0h2m537 0h2m129 0h2m-1005 1h2m61 0h2m266 0h2m541 0h2m124 0h3m-938 1h2m262 0h2m545 0h2m119 0h3m-933 1h2m13 0h2m243 0h2m664 0h4m-993 1h2m63 0h3m8 0h2m2 0h2m239 0h2m661 0h5m-987 1h2m64 0h3m3 0h2m243 0h2m660 0h3m-913 1h3m243 0h2m659 0h3m-666 1h2m657 0h4m-972 1h2m305 0h2m657 0h2m-663 1h2m564 0h2m91 0h2m-663 1h2m568 0h2m87 0h2m-960 1h2m295 0h2m572 0h3m81 0h3m-956 1h2m291 0h2m577 0h4m74 0h3m-951 1h2m74 0h3m210 0h2m654 0h3m-946 1h2m75 0h2m206 0h2m653 0h3m-941 1h3m278 0h2m652 0h3m-935 1h2m73 0h2m199 0h2m652 0h2m-984 1h3m51 0h3m269 0h2m652 0h2m-979 1h4m50 0h2m918 0h3m68 0h5m-1046 1h2m4 0h3m43 0h2m262 0h2m649 0h3m68 0h3m5 0h4m-1048 1h4m308 0h2m649 0h2m69 0h2m12 0h2m-997 1h2m906 0h2m69 0h2m16 0h3m-744 1h2m648 0h2m69 0h2m21 0h2m16 0h22m-786 1h2m648 0h2m39 0h11m19 0h2m25 0h4m6 0h6m22 0h7m-1043 1h2m246 0h2m648 0h2m52 0h4m12 0h3m31 0h6m35 0h5m-1046 1h2m241 0h3m648 0h2m40 0h2m16 0h2m5 0h5m80 0h2m-857 1h2m48 0h2m649 0h2m62 0h5m87 0h2m-861 1h2m47 0h3m39 0h2m522 0h3m-621 1h3m47 0h2m40 0h2m771 0h2m-870 1h3m702 0h2m163 0h2m-876 1h4m50 0h2m51 0h2m-113 1h4m52 0h2m41 0h2m12 0h2m766 0h2m-887 1h4m54 0h2m59 0h2m766 0h2m-891 1h2m56 0h2m63 0h2m589 0h2m175 0h9m-902 1h2m56 0h2m67 0h2m-131 1h2m56 0h2m71 0h2m582 0h2m-720 1h3m133 0h2m578 0h2m-801 1h2m79 0h2m58 0h2m653 0h3m-864 1h2m141 0h3m58 0h2m653 0h2m-721 1h3m714 0h2m52 0h2m-777 1h4m-70 1h2m59 0h5m64 0h2m652 0h2m-851 1h2m284 0h2m614 0h2m-58 1h2m52 0h2m-780 1h2m-54 1h2m118 0h2m98 0h2m550 1h2m52 0h2m-780 1h2m-4 1h2m67 1h2m108 0h2m19 0h2m574 0h2m-781 1h2m775 0h2m-781 1h2m185 0h2m13 0h2m568 0h7m-934 1h2m151 0h2m189 0h2m9 0h2m568 0h2m-925 1h2m342 0h9m568 0h2m-775 1h2m-146 2h2m867 0h2m-663 7h2m-84 1h3m5 0h3m-8 1h5m69 2h2m-142 3h2m2 3h2m0 1h2m0 1h2m-53 1h9m44 0h2m118 0h2m-166 1h3m43 0h4m0 1h3m108 0h2m68 0h2m-229 1h2m47 0h2m104 0h2m-106 1h2m99 0h3m-5 1h2m71 0h2m-221 1h2m48 0h2m90 0h4m-144 1h2m48 0h2m83 0h5m74 0h2m-90 1h9m77 0h2m-161 1h2m69 0h2m84 0h2m-157 1h2m65 0h2m84 0h2m651 0h2m-806 1h2m61 0h2m61 0h2m1 0h2m18 0h2m651 0h2m-802 1h2m57 0h2m68 0h2m12 0h4m651 0h2m-798 1h2m117 0h2m8 0h2m5 0h5m653 0h2m-742 1h2m61 0h2m12 0h5m-133 1h2m47 0h2m-47 3h2m39 0h2m-41 1h2m1 2h2m30 0h2m-32 1h2m26 0h2m-28 1h2m0 1h2m19 0h2m-21 1h3m14 0h2m742 0h2m-760 1h2m9 0h3m742 0h2m-756 1h9m738 0h7m-47 1h2m35 0h3m-55 1h2m11 0h2m-13 1h2m7 0h2m-9 1h2m3 0h2m-5 1h3m-636 16h2m-5 1h3m-8 1h5m-31 1h8m14 0h4m-18 1h14m-113 9h2m14 1h17m-30 1h3m5 0h5m17 0h2m-29 1h5m24 0h4m25 0h16m-41 1h4m16 0h5m-21 1h2m9 0h5m-14 1h9m702 46h9m0 1h3m-15 1h2m-39 74h3m-6 1h3M22.5 283v1m1 0v1m1 0v1m1 0v1m1 0v1m1 0v1m1 0v1m1 0v1m1 53v1m1 0v2m1 0v1m1 0v1m1 0v2m1 -31v1m0 30v1m1 0v1m1 0v1m1 0v1m1 0v1m1 -33v1m0 32v1m1 -33v1m0 32v1m1 0v1m1 0v2m1 -35v1m0 34v1m1 -35v1m0 34v1m1 0v2m1 0v1m1 0v1m1 0v1m1 -74v1m0 35v1m0 37v1m1 -38v1m0 37v1m1 0v1m1 0v1m1 -39v1m0 38v1m1 -39v1m0 38v1m1 0v1m1 0v1m5 2v1m1 0v1m3 1v1m1 0v1m1 0v1m1 0v1m1 0v1m1 0v1m1 0v1m1 0v1m1 0v1m1 0v1m1 -47v1m0 46v1m1 0v1m1 0v1m1 -48v1m0 47v2m1 -49v1m0 48v1m1 0v1m1 0v1m1 0v1m1 -98v1m1 0v1m0 46v1m1 -47v2m0 45v1m1 -46v2m0 44v1m1 -45v1m0 44v1m1 -45v2m0 43v1m1 -44v2m0 42v1m1 -43v2m0 41v1m1 -42v1m0 41v1m1 -42v1m0 41v1m1 -42v1m0 41v1m1 -42v1m0 41v1m1 -42v1m0 41v1m0 40v1m1 -83v1m2 42v1m0 40v1m1 -41v1m0 40v1m1 -41v1m1 -43v1m2 43v1m1 0v1m0 39v1m1 -40v1m0 39v2m1 -41v1m0 40v2m1 -42v1m0 41v2m1 -43v1m0 42v2m1 -44v1m0 43v2m1 -45v2m0 43v2m1 -45v1m0 44v2m1 -46v1m0 45v2m1 -47v2m0 45v2m1 -47v1m0 46v3m1 -49v1m0 48v2m1 -50v2m0 48v3m1 -51v1m0 50v3m1 -53v1m0 52v2m1 -54v1m0 53v3m1 -56v1m0 55v3m1 -58v2m0 56v3m1 -59v1m0 58v2m1 -60v1m0 59v3m1 -62v1m0 61v2m1 -63v1m0 62v2m1 0v2m1 -131v1m0 130v1m1 -131v1m0 64v1m1 -65v1m0 64v1m1 -65v1m0 129v1m1 -130v1m1 0v1m1 0v1m1 0v1m6 2v1m3 1v1m1 0v1m1 0v1m1 0v1m1 0v1m1 0v1m1 0v1m0 57v1m1 -58v1m1 0v2m1 0v1m1 0v1m1 0v1m0 54v1m1 -55v1m1 0v2m1 0v1m1 0v1m1 0v1m1 0v1m3 1v1m1 0v1m1 0v1m0 49v1m3 -49v1m0 49v1m1 -50v1m0 49v1m1 -50v1m3 1v1m1 0v1m0 48v1m1 -49v1m1 0v2m1 0v1m1 0v1m1 0v1m1 0v1m1 0v2m1 0v1m1 0v1m1 0v1m1 0v1m1 0v1m1 0v1m1 0v1m12 -2v2m1 -3v1m1 -2v1m1 -3v2m1 -3v1m0 41v1m1 -44v1m1 -2v1m2 83v1m1 -87v1m0 42v1m0 41v1m1 -44v1m0 41v1m1 -2v1m1 -2v1m1 -43v1m0 39v2m1 -43v1m0 39v1m1 -2v1m1 -83v1m0 80v1m1 -2v1m1 -2v1m1 -40v1m2 -44v1m1 -2v1m3 -3v1m1 -2v1m29 34v1m0 45v1m1 -2v1m1 -3v2m1 -47v1m0 43v1m1 -46v1m0 43v1m1 -46v1m0 42v2m1 -46v1m0 42v1m1 -45v1m0 42v1m1 -45v1m0 41v2m1 -45v1m0 41v1m1 -44v1m0 40v2m1 -4v2m1 -4v2m1 -41v1m0 36v2m1 -40v1m0 36v1m1 -39v1m0 36v1m1 -3v2m1 -3v1m1 -37v1m0 34v1m1 -37v1m0 34v1m1 -72v1m0 34v1m0 34v1m1 -72v1m0 34v1m0 34v1m1 -73v2m0 34v1m0 34v1m1 -73v1m0 35v1m0 34v1m1 -73v1m0 35v1m0 34v1m1 -74v2m0 35v1m1 -39v1m0 36v1m1 -39v1m0 36v1m1 -39v1m0 36v1m1 -40v2m0 36v1m0 36v1m1 -77v1m0 37v1m1 -40v1m1 -2v1m0 75v1m1 -79v2m0 38v1m1 -43v2m0 39v1m1 -43v1m0 40v1m1 -44v2m1 -3v1m1 -3v2m0 42v1m1 -47v2m0 43v1m1 -47v1m0 44v1m1 -48v2m1 -4v2m1 -3v1m0 47v1m1 -50v1m0 47v1m1 -50v1m1 -3v2m1 -3v1m1 -2v1m1 -2v1m0 50v1m1 -53v1m1 -3v2m1 -3v1m1 -2v1m1 -2v1m3 -3v1m5 51v1m1 52v1m3 -3v1m1 -2v1m3 -3v1m1 -2v1m1 -3v2m1 -3v1m1 -2v1m1 -3v2m1 -3v1m1 -3v2m1 -4v2m1 -46v1m0 41v2m1 -4v2m1 -4v2m1 -3v1m1 -2v1m1 -40v1m0 36v2m1 -3v1m1 -2v1m1 -3v2m1 -3v1m1 -2v1m1 -3v2m1 -4v2m1 -3v1m1 -3v2m1 -3v1m1 -3v2m1 -4v2m1 -3v1m1 -3v2m1 -3v1m1 -2v1m3 -3v1m1 -2v1m5 -4v1m1 -43v2m0 41v1m1 -45v1m0 44v1m1 -48v2m0 46v1m1 -50v1m1 -3v2m1 -6v4m1 -6v2m1 -4v2m1 -3v1m1 -3v2m1 -3v1m1 -3v2m1 -4v2m1 -3v1m1 -3v2m1 -3v1m1 -3v2m1 -4v2m0 81v1m1 -86v2m0 84v1m1 -89v2m0 87v1m1 -92v2m0 90v1m1 -95v2m0 93v1m1 -98v2m1 -4v2m1 -4v2m0 101v1m1 -107v3m0 104v1m1 -110v2m1 -4v2m1 -4v2m0 113v1m1 -119v3m0 59v1m0 56v1m1 -122v2m0 61v1m0 58v1m1 -125v2m0 62v1m1 -67v2m0 63v1m1 -68v2m0 64v1m0 63v1m1 -134v3m0 65v1m1 -71v2m0 67v1m1 -72v2m0 68v1m1 -73v2m0 69v1m1 -74v2m0 70v1m1 -76v3m0 71v1m1 -77v2m0 73v1m1 -79v3m0 73v2m1 -80v2m0 75v1m1 -80v2m0 76v1m1 -82v3m0 77v1m1 -83v2m0 79v1m1 -85v3m0 79v2m1 -87v3m0 81v1m1 -87v2m0 83v1m1 -89v3m0 84v1m1 -91v3m0 85v2m1 -93v3m0 87v1m0 84v1m1 -178v2m0 88v2m1 -95v3m0 89v1m1 -95v2m0 90v2m0 86v1m1 -182v1m0 91v1m0 87v1m1 -182v1m0 90v2m0 87v1m1 -182v1m0 90v1m0 87v2m1 -182v1m0 89v2m0 87v1m1 -181v1m0 89v1m0 88v1m1 -181v1m0 88v2m0 87v2m1 -92v1m0 87v2m1 -91v1m0 87v1m1 -178v1m0 86v2m0 86v2m1 -178v1m0 86v1m0 87v1m1 -177v1m0 85v2m0 86v2m1 -177v1m0 85v1m0 86v2m1 -176v1m0 85v1m0 86v1m1 -175v1m0 84v2m0 85v2m1 -90v1m0 85v2m1 -89v1m0 84v2m1 -89v2m0 82v3m1 -88v1m0 81v3m1 -86v1m0 80v2m1 -84v1m0 78v3m1 -83v1m0 77v2m1 -82v2m0 76v2m1 -81v1m0 75v3m1 -80v1m0 74v2m1 -78v1m0 73v2m1 -78v2m0 71v3m1 -77v1m0 71v2m1 -75v1m0 69v3m1 -75v2m0 67v3m1 -73v1m0 67v2m1 -72v2m0 65v3m1 -137v1m0 65v1m0 65v2m1 -69v1m0 63v3m1 -69v2m0 62v2m1 -131v1m0 63v1m0 62v2m1 -130v1m0 62v2m0 62v1m1 -130v2m0 62v1m1 -67v2m0 63v1m1 -68v2m0 63v2m1 -69v2m0 64v1m1 -68v1m0 64v2m0 65v2m1 -136v2m0 64v1m0 66v1m1 -135v1m0 65v1m0 66v1m1 -135v1m0 64v2m0 65v2m1 -136v2m0 64v1m0 65v2m1 -136v2m0 64v2m0 65v1m1 -136v2m0 65v1m0 66v1m1 -137v2m0 66v1m0 66v1m1 -138v2m0 66v2m0 66v1m1 -138v1m0 67v1m0 67v1m1 -138v1m0 67v1m0 67v1m1 -139v2m0 66v2m0 67v1m1 -139v1m0 67v1m0 67v2m1 -139v1m0 67v1m0 67v1m1 -138v1m0 66v2m0 67v1m1 -139v2m0 66v1m0 67v2m1 -139v1m0 67v1m0 67v1m1 -138v1m0 67v1m0 67v1m1 -139v2m0 67v1m0 67v1m1 -139v1m0 68v1m0 67v1m1 -140v2m0 68v1m0 67v1m1 -140v1m0 69v1m0 67v1m1 -140v1m0 69v1m0 67v1m1 -141v2m0 69v1m0 67v1m1 -141v1m0 70v1m0 67v1m1 -141v1m0 70v1m0 67v1m1 -141v1m0 70v1m0 67v1m1 -141v1m0 69v2m0 66v2m1 -141v1m0 69v1m0 67v1m1 -140v1m0 69v1m0 67v1m1 -70v1m0 67v1m1 -70v1m0 66v2m1 -70v1m0 66v1m1 -69v1m0 66v1m1 -137v1m0 67v1m0 66v1m1 -137v1m0 67v1m0 65v2m1 -137v1m0 67v1m0 65v1m1 -136v1m0 67v1m0 65v1m1 -136v1m0 67v1m0 64v2m1 -136v1m0 67v1m0 64v1m1 -136v2m0 67v1m1 -71v1m0 68v1m1 -71v1m0 68v1m1 -72v2m0 68v1m1 -72v1m0 69v1m1 -73v2m0 69v1m1 -74v2m0 70v1m1 -74v1m0 71v1m1 -75v2m0 71v1m1 -75v1m0 72v1m1 -76v2m0 72v1m1 -77v2m0 73v1m1 -77v1m0 74v1m0 70v2m1 -150v2m0 74v1m0 70v1m1 -73v1m0 69v2m1 -73v1m0 68v2m1 -72v1m0 67v2m1 -71v1m0 66v2m1 -70v1m0 64v3m1 -69v1m0 63v2m1 -67v1m0 61v3m1 -66v1m0 59v3m1 -5v2m1 -5v3m1 -60v1m0 54v2m1 -119v1m0 60v1m0 52v3m1 -5v2m1 -5v3m1 -53v1m0 47v2m1 -51v1m0 45v3m1 -104v1m0 53v1m0 44v2m1 -100v1m0 51v1m0 43v2m1 -97v1m0 49v1m0 41v3m1 -94v1m0 47v1m0 40v2m1 -90v1m0 45v1m0 38v3m1 -87v1m0 43v1m0 36v3m1 -83v1m0 77v2m1 -79v2m0 73v2m1 -75v1m0 70v2m1 -72v1m0 67v2m1 -69v1m0 64v2m1 -66v1m0 61v2m1 -3v1m2 -60v1m1 56v1m1 -2v1m10 -59v1m0 26v1m1 -30v2m1 -3v1m1 -3v2m0 28v1m1 -33v2m1 -4v2m1 -4v2m1 -3v1m8 -4v2m8 -4v1m1 -3v2m1 -3v1m1 -3v2m0 36v1m1 -41v2m0 37v1m1 -42v2m1 -4v2m1 -3v1m0 41v1m1 -45v2m1 -4v2m1 -4v2m0 44v1m1 -48v1m0 45v1m1 -49v2m1 -4v2m1 -3v1m0 48v1m1 -52v2m1 -4v2m1 -3v1m3 -3v1m1 -2v1m1 -2v1m1 -2v1m1 -2v1m1 -2v1m3 -3v1m1 -2v1m1 -2v1m1 -2v1m1 56v1m0 57v1m1 -60v1m0 57v1m1 -2v1m1 -2v1m1 -59v1m0 56v1m1 -3v2m1 -4v2m1 -4v2m1 -4v2m1 -4v2m1 -103v1m0 98v2m1 -51v1m0 47v1m1 -2v1m3 -3v1m1 -49v1m0 46v1m1 -3v2m1 -4v2m1 -3v1m1 -3v2m1 -3v1m1 -3v2m1 -4v2m1 -4v2m1 -4v2m1 -3v1m1 -2v1m1 -71v1m0 67v2m1 -3v1m1 -2v1m10 -2v1m3 1v1m1 0v1m1 -68v1m0 67v1m1 -70v1m0 69v2m1 0v1m1 0v1m1 -76v1m0 75v1m1 -78v1m0 77v1m3 1v1m1 0v1m1 0v1m1 0v1m1 -88v1m0 87v1m1 0v2m1 -45v1m0 44v4m1 -97v1m0 48v1m0 47v3m1 -50v1m0 49v3m1 -52v1m0 51v2m1 -107v1m0 53v1m0 52v3m1 -55v1m0 54v3m1 -57v1m0 56v2m1 -117v1m0 58v1m0 57v3m1 -60v2m0 58v2m1 -60v1m0 59v2m1 -61v1m0 60v2m1 -62v1m0 61v2m1 0v2m1 0v1m1 0v1m1 0v1m1 -131v1m0 130v1m1 -131v1m0 130v1m1 -131v1m0 63v1m1 -64v1m0 63v1m1 -64v1m0 63v1m1 -64v1m0 63v1m1 -64v2m0 62v1m1 -63v1m1 0v1m1 0v1m0 61v1m1 -62v1m0 61v1m1 -62v1m0 61v1m1 -62v1m0 61v1m1 -62v2m0 60v1m1 -61v2m0 59v1m1 -60v1m0 59v1m1 -60v1m0 59v1m1 -60v2m0 58v1m1 -59v1m0 58v1m1 -59v1m0 58v1m1 -59v1m1 0v2m1 0v1m0 56v1m1 -57v1m0 56v1m1 -57v2m0 55v1m1 -56v1m0 55v1m1 -56v1m1 0v1m1 0v2m0 53v1m1 -54v1m0 53v1m1 -54v1m0 53v1m1 -54v2m0 52v1m1 -53v1m0 52v1m1 -53v1m0 52v1m1 -53v2m0 51v1m1 -52v1m0 51v1m1 -52v1m0 51v1m0 45v1m1 -98v2m0 50v1m0 45v1m1 -97v1m0 50v1m0 45v1m1 -97v1m0 50v1m0 45v1m1 -97v2m0 49v1m0 45v1m1 -96v1m0 49v1m0 45v1m1 -96v1m0 49v1m0 45v2m1 -97v2m0 48v1m0 46v2m1 -97v1m0 48v1m0 47v1m1 -97v1m0 48v1m0 47v2m1 -98v1m0 48v1m0 48v1m1 -49v2m0 47v2m1 -49v1m0 48v1m1 -100v1m0 50v1m0 48v1m1 -100v1m0 50v1m0 48v2m1 -50v1m0 49v1m1 0v1m1 -104v1m0 103v1m1 -104v2m0 51v1m0 50v1m1 -103v2m0 50v1m1 -51v1m1 0v1m1 0v2m1 0v1m1 0v1m5 2v1m3 1v1m7 93v2m1 -46v1m0 45v1m1 -92v1m0 91v2m1 0v2m1 -49v1m0 48v2m1 -100v1m0 49v1m0 49v2m1 -103v1m0 102v2m1 0v2m1 -54v1m0 53v1m1 -110v1m0 55v1m0 53v2m1 -55v1m0 54v1m1 0v1m1 0v2m1 0v1m1 0v1m1 -117v1m0 116v1m1 -117v1m0 116v1m1 -117v1m0 57v1m0 58v2m1 -60v1m0 59v3m1 -62v1m0 61v3m1 -127v1m0 62v1m0 63v3m1 -66v2m0 64v3m1 -67v1m0 66v3m1 -69v1m0 68v3m1 -71v1m0 70v3m1 -73v2m0 71v3m1 -74v2m0 72v4m1 -152v2m0 74v2m0 74v5m1 -159v2m0 78v2m0 77v5m1 -166v2m0 82v2m0 80v5m1 -173v2m0 86v2m0 83v6m1 -181v2m0 90v2m0 87v7m1 -190v2m0 94v2m0 92v7m1 -199v2m0 98v2m0 97v7m1 -209v3m0 102v2m0 102v9m1 -221v3m0 107v3m0 108v8m1 -232v3m0 113v3m0 113v7m1 -241v2m0 119v3m0 117v6m1 -250v3m0 124v3m0 120v9m1 -261v2m0 130v3m0 126v10m1 -273v2m0 135v3m0 133v8m1 -282v1m0 140v3m0 138v8m1 -292v2m0 144v3m0 143v7m1 -300v1m0 149v3m0 147v7m1 -154v3m0 151v8m1 -159v4m0 155v8m1 -163v3m0 160v7m1 -167v3m0 164v6m1 -335v1m0 164v3m0 167v6m1 -343v2m0 168v3m0 170v6m1 -350v1m0 173v4m0 172v7m1 -358v1m0 178v3m0 176v6m1 -365v1m0 182v3m0 179v6m1 -373v2m0 186v3m0 182v6m1 -380v1m0 191v3m0 185v8m1 -389v1m0 195v4m0 189v8m1 -398v1m0 200v3m0 194v8m1 -408v2m0 204v3m0 199v10m1 -419v1m0 209v4m0 205v10m1 -215v3m0 212v8m1 -220v3m0 217v7m1 -224v4m0 220v6m1 -226v3m0 223v6m1 -229v3m0 226v6m1 -232v4m0 228v6m1 -468v1m0 233v3m0 231v6m1 -473v1m0 235v4m0 233v6m1 -478v2m0 237v4m0 235v5m1 -481v1m0 240v3m0 237v4m1 -484v2m0 241v4m0 237v4m1 -486v3m0 242v3m0 238v4m1 -487v2m0 243v2m0 240v4m1 -489v3m0 242v3m0 241v2m1 -488v4m0 241v2m0 241v2m1 -486v3m0 240v3m0 240v2m1 -485v3m0 240v2m0 240v1m1 -483v4m0 238v3m0 238v1m1 -480v4m0 237v2m0 237v2m1 -478v5m0 234v3m0 236v1m1 -474v6m0 231v2m0 235v1m1 -469v5m0 228v3m1 -231v4m0 227v2m1 -229v4m0 225v2m1 -227v5m0 222v3m1 -225v6m0 219v3m1 -222v5m0 217v3m0 218v1m1 -439v5m0 215v2m0 214v2m1 -433v5m0 212v3m0 209v2m1 -426v5m0 210v3m0 204v2m1 -419v5m0 208v2m0 201v1m1 -412v5m0 205v3m0 197v1m1 -406v6m0 202v2m0 194v1m1 -399v6m0 198v2m0 191v1m1 -392v6m0 194v3m0 187v1m1 -385v5m0 192v2m0 184v1m1 -379v6m0 188v3m0 180v1m1 -372v6m0 185v2m0 177v1m1 -365v6m0 181v2m0 174v1m1 -358v6m0 177v2m0 171v1m1 -351v6m0 173v2m0 167v2m1 -344v5m0 170v2m0 163v2m1 -337v6m0 166v1m0 160v2m1 -329v5m0 162v2m0 156v2m1 -322v5m0 159v1m0 153v2m1 -315v5m0 155v2m0 148v3m1 -308v9m0 148v2m0 142v4m1 -296v6m0 144v1m0 137v4m1 -286v6m0 139v2m0 132v3m1 -276v6m0 135v1m0 128v3m1 -267v8m0 128v2m0 124v2m1 -256v6m0 124v1m0 120v3m1 -248v5m0 120v1m0 117v2m1 -240v4m0 117v2m0 113v2m1 -234v6m0 113v1m0 109v3m1 -226v7m0 107v1m0 104v4m1 -216v6m0 102v1m0 99v4m1 -206v4m0 99v1m0 95v3m1 -198v4m0 96v1m0 92v2m1 -191v3m0 94v1m0 89v2m1 -186v4m0 178v2m1 -180v3m1 0v3m1 0v2m0 168v1m1 -169v3m1 0v2m1 1v1m3 -3v1m1 -2v1m1 -3v2m1 -4v2m1 -4v2m1 -4v2m1 -4v2m1 -4v2m0 176v1m1 -181v2m0 90v1m0 88v1m1 -185v3m0 91v1m0 90v1m1 -188v2m0 93v1m0 92v1m1 -191v2m0 94v1m0 94v1m1 -194v2m0 94v2m0 94v1m1 -194v1m0 95v1m0 95v1m1 -194v1m0 95v1m0 95v1m1 -194v1m0 95v1m0 95v1m1 -99v2m0 93v3m1 -100v2m0 91v4m1 -99v2m0 90v3m1 -97v2m0 88v4m1 -95v1m0 87v3m1 -93v2m0 85v3m1 -92v2m0 84v3m1 -91v2m0 80v6m1 -90v2m0 79v3m1 -85v1m0 78v3m1 -84v2m0 76v3m1 -83v2m0 75v3m1 -81v1m0 73v4m1 -80v2m0 71v3m1 -143v2m0 64v1m0 70v3m1 -138v2m0 61v1m0 68v3m1 -133v2m0 58v1m0 66v3m1 -71v1m0 63v4m1 -69v1m0 60v4m1 -66v1m0 57v4m1 -63v1m0 54v4m1 -60v1m0 52v3m1 -57v1m0 51v2m1 -55v1m0 50v2m1 -54v1m0 49v2m1 -53v1m0 48v2m1 -52v1m0 47v2m2 -97v2m1 -4v2m0 45v1m1 -50v2m0 46v1m1 -51v2m0 47v1m1 -52v2m0 48v1m1 -52v1m0 49v1m1 -53v2m0 49v1m1 -54v2m0 50v1m1 -54v1m0 51v1m1 -54v1m0 51v1m1 -54v1m1 -2v1m1 -2v1m0 52v1m1 -55v1m0 52v1m0 55v1m1 -2v1m1 -2v1m1 -110v1m0 52v1m0 54v1m1 -2v1m1 -2v1m1 -56v1m0 53v1m1 -2v1m1 -2v1m1 -2v1m1 -2v1m8 -57v1m1 50v1m1 -3v2m1 -53v1m0 48v2m1 -52v1m0 47v2m1 -51v1m0 46v2m1 -4v2m1 -4v2m1 -47v1m0 41v3m1 -46v1m0 40v2m1 -4v2m1 -4v2m1 -5v3m1 -5v2m1 -4v2m1 -4v2m1 -3v1m15 -7v1m1 -2v1m3 -3v1m1 -2v1m5 -4v1m1 -2v1m3 -3v1m1 -2v1m1 -3v2m1 -3v1m1 -3v2m1 -3v1m1 -3v2m1 -4v2m1 -3v1m3 -3v1m13 -39v1m1 -2v1m1 -2v1m1 -2v1m1 -2v1m1 -2v1m1 -2v1m1 -2v1m1 -2v1m1 -2v1m1 -2v1m3 -3v1m1 -2v1m1 -2v1m70 -6v1m3 -3v1m7 -5v1m3 -3v1m1 -2v1m0 68v1m1 -71v1m1 -2v1m1 -2v1m1 -2v1m1 -2v1m0 76v1m1 -80v2m1 -3v1m1 -2v1m1 -3v2m1 -3v1m1 -3v2m1 -3v1m1 -3v2m1 -4v2m0 46v1m1 -50v1m1 -2v1m1 -2v1m0 48v1m1 -51v1m0 48v1" fill="none" stroke="#004040" stroke-width="1"/>
</g>
<line x1="901" y1="329.3" x2="1211" y2="232.3" stroke="#ff0000" stroke-width="2" shape-rendering="crispEdges"/>
<g shape-rendering="crispEdges">
<rect x="15" y="245" width="238" height="2" fill="#ff0000"/>
<rect x="311" y="245" width="900" height="2" fill="#ff0000"/>
<rect x="15" y="257" width="265" height="2" fill="#ff0000"/>
<rect x="338" y="257" width="873" height="2" fill="#ff0000"/>
<rect x="15" y="274" width="261" height="2" fill="#008000"/>
<rect x="334" y="274" width="877" height="2" fill="#008000"/>
<rect x="15" y="289" width="270" height="2" fill="#008000"/>
<rect x="343" y="289" width="868" height="2" fill="#008000"/>
</g>
<text x="256.44 262.44 268.97 272.44 278.44 284.44 290.97 294.44 300.44" y="251" fill="#000" stroke="#000" stroke-width="0.15">36,920.75</text>
<text x="283.44 289.44 295.97 299.44 305.44 311.44 317.97 321.44 327.44" y="263" fill="#000" stroke="#000" stroke-width="0.15">36,480.44</text>
<text x="278.44 284.44 290.97 294.44 300.44 306.44 312.97 316.44 322.44" y="280" fill="#000" stroke="#000" stroke-width="0.15">35,856.66</text>
<text x="287.44 293.44 299.97 303.44 309.44 315.44 321.97 325.44 331.44" y="295" fill="#000" stroke="#000" stroke-width="0.15">35,306.26</text>
<text x="10.03 18.44 24.97 27.97 30.94 36.97 39.53 46.83 53.83 60.97 64.44 71.44 78.44 84.97 88.97 93.03 100.83" y="16" fill="#c4c1c8" font-weight="bold" stroke="#c4c1c8" stroke-width="0.4">Daily KSE 100 INX</text>
<text x="1138.24 1144.77 1148.24 1154.77 1158.24 1164.24 1170.24 1176.24 1182.27 1185.47 1189.27 1192.24 1198.77 1202.24 1208.24 1214.77 1218.24 1224.24 1230.24 1236.24 1242.27 1245.47 1248.63 1254.83 1262.77 1266.47" y="16" fill="#c4c1c8" stroke="#c4c1c8" stroke-width="0.15">7/9/2019 - 7/30/2020 (KHI)</text>
<text x="22.53 29.94 35.94 41.78 44.47 47.97 50.33 56.33 62.33 68.97 71.94 77.94 83.94 89.97 93.47 96.53 103.33 110.47 113.97 116.94 123.47 126.94 132.94 139.47 142.94 148.94 154.94 160.94 167.47 170.97 173.94 179.94 186.47 189.94 195.94 201.94 208.47 211.94 217.94 224.47 227.97 230.94 236.94 243.47 246.94 252.94 258.94 265.47 268.94 274.94 281.47 284.97 287.94 293.94 300.47 303.94 309.94 315.94 322.47 325.94 331.94 338.47 341.97 344.94 350.94 357.47 360.94 366.94 372.94 379.47 382.94 388.94 395.47" y="35" fill="#ff0000" stroke="#ff0000" stroke-width="0.15">Cndl, KSE 100 INX, 7/13/2020, 36,190.40, 36,190.40, 36,190.40, 36,190.40,</text>
<text x="403.44 409.97 413.44 419.44 425.97 429.47 432.67 436.44 442.97 446.44 452.44 459.11 469.67 473.97" y="35" fill="#008000" stroke="#008000" stroke-width="0.15">0.00, (0.00%),</text>
<text x="482.83 488.83 495.44 501.44 507.44 513.97 517.47 519.83 525.83 531.83 538.47 541.44 547.44 553.44 559.47 562.97 566.03 572.83 579.97 583.47 586.44 592.97 596.44 602.44 608.97 612.44 618.44 624.44 630.44 636.97 640.47 643.44 649.44 655.97 659.44 665.44 671.44 677.97 681.44 687.44 693.97 697.47 700.44 706.44 712.97 716.44 722.44 728.44 734.97 738.44 744.44 750.97 754.47 757.44 763.44 769.97 773.44 779.44 785.44 791.97 795.44 801.44" y="35" fill="#004040" stroke="#004040" stroke-width="0.15">BBand, KSE 100 INX, 7/13/2020, 36,430.73, 34,631.88, 32,833.02</text>
<text x="22.53 29.33 36.47 40.47 43.97 46.33 52.33 58.33 64.97 67.94 73.94 79.94 85.97 89.47 92.53 99.33 106.47 109.97 112.94 119.47 122.94 128.94 135.47 138.94 144.94 150.94 156.94 163.47 166.97 169.94 175.94 182.47 185.94 191.94 197.94 204.47" y="617" fill="#ff0000" stroke="#ff0000" stroke-width="0.15">RSI, KSE 100 INX, 7/13/2020, 74.017,</text>
<text x="213.83 219.92 228.33 235.97 239.47 242.03 248.83 255.97 259.67 262.83 268.83 274.83 281.47 284.44 290.44 296.44 302.47 305.97 309.03 315.83 322.67 326.97 330.47 333.44 339.97 343.44 349.44 355.97 359.44 365.44 371.44 377.44 383.97 387.47 390.44 396.44 402.97 406.44 412.44 418.44" y="617" fill="#5533ff" stroke="#5533ff" stroke-width="0.15">EMA, RSI(KSE 100 INX), 7/13/2020, 67.944</text>
<text x="22.33 29.47 32.94 38.75 43.94 49.33 56.47 59.97 62.33 68.33 74.33 80.97 83.94 89.94 95.94 101.97 105.47 108.53 115.33 122.47 125.97 128.94 135.47 138.94 144.94 151.47 154.94 160.94 166.94 172.94 179.47 182.97 185.94 191.94 198.47 201.94 207.94 213.94 220.47" y="709" fill="#0099ff" stroke="#0099ff" stroke-width="0.15">StochS, KSE 100 INX, 7/13/2020, 93.642,</text>
<text x="227.44 233.44 239.97 243.44 249.44 255.44" y="709" fill="#ff3300" stroke="#ff3300" stroke-width="0.15">94.991</text>
<text x="22.42 30.83 37.53 44.53 52.47 55.97 58.33 64.33 70.33 76.97 79.94 85.94 91.94 97.97 101.47 104.53 111.33 118.47 121.97 124.94 131.47 134.94 140.94 147.47 150.94 156.94 162.94 168.94 175.47 178.97 181.94 187.94 193.94 200.47 203.94 209.94 216.47" y="777" fill="#e8e000" stroke="#e8e000" stroke-width="0.15">MACD, KSE 100 INX, 7/13/2020, 555.57,</text>
<text x="223.44 229.44 235.44 241.97 245.44 251.44" y="777" fill="#00ccff" stroke="#00ccff" stroke-width="0.15">372.80</text>
<text x="1216.43 1223.96 1228.57 1231.54 1238.04" y="46" fill="#c4c1c8" font-weight="bold" stroke="#c4c1c8" stroke-width="0.4">Price</text>
<text x="1215.83 1222.53 1230.03" y="61" fill="#c4c1c8" font-weight="bold" stroke="#c4c1c8" stroke-width="0.4">PKR</text>
<g shape-rendering="crispEdges">
<rect x="1212" y="80" width="5" height="1" fill="#000"/>
<rect x="1212" y="108" width="5" height="1" fill="#000"/>
<rect x="1212" y="135" width="5" height="1" fill="#000"/>
<rect x="1212" y="162" width="5" height="1" fill="#000"/>
<rect x="1212" y="190" width="5" height="1" fill="#000"/>
<rect x="1212" y="217" width="5" height="1" fill="#000"/>
<rect x="1212" y="244" width="5" height="1" fill="#000"/>
<rect x="1212" y="271" width="5" height="1" fill="#000"/>
<rect x="1212" y="299" width="5" height="1" fill="#000"/>
<rect x="1212" y="326" width="5" height="1" fill="#000"/>
<rect x="1212" y="353" width="5" height="1" fill="#000"/>
<rect x="1212" y="381" width="5" height="1" fill="#000"/>
<rect x="1212" y="408" width="5" height="1" fill="#000"/>
<rect x="1212" y="435" width="5" height="1" fill="#000"/>
<rect x="1212" y="463" width="5" height="1" fill="#000"/>
<rect x="1212" y="490" width="5" height="1" fill="#000"/>
<rect x="1212" y="517" width="5" height="1" fill="#000"/>
<rect x="1212" y="545" width="5" height="1" fill="#000"/>
<rect x="1212" y="572" width="5" height="1" fill="#000"/>
</g>
<text x="1218.34 1224.34 1230.87 1234.34 1240.34 1246.34" y="85" fill="#000" stroke="#000" stroke-width="0.15">43,000</text>
<text x="1218.34 1224.34 1230.87 1234.34 1240.34 1246.34" y="113" fill="#000" stroke="#000" stroke-width="0.15">42,000</text>
<text x="1218.34 1224.34 1230.87 1234.34 1240.34 1246.34" y="140" fill="#000" stroke="#000" stroke-width="0.15">41,000</text>
<text x="1218.84 1225.84 1232.37 1235.84 1242.84 1249.84" y="167" fill="#000" font-weight="bold" stroke="#000" stroke-width="0.4">40,000</text>
<text x="1218.34 1224.34 1230.87 1234.34 1240.34 1246.34" y="195" fill="#000" stroke="#000" stroke-width="0.15">39,000</text>
<text x="1218.34 1224.34 1230.87 1234.34 1240.34 1246.34" y="222" fill="#000" stroke="#000" stroke-width="0.15">38,000</text>
<text x="1218.34 1224.34 1230.87 1234.34 1240.34 1246.34" y="249" fill="#000" stroke="#000" stroke-width="0.15">37,000</text>
<text x="1218.34 1224.34 1230.87 1234.34 1240.34 1246.34" y="276" fill="#000" stroke="#000" stroke-width="0.15">36,000</text>
<text x="1218.34 1224.34 1230.87 1234.34 1240.34 1246.34" y="304" fill="#000" stroke="#000" stroke-width="0.15">35,000</text>
<text x="1218.34 1224.34 1230.87 1234.34 1240.34 1246.34" y="331" fill="#000" stroke="#000" stroke-width="0.15">34,000</text>
<text x="1218.34 1224.34 1230.87 1234.34 1240.34 1246.34" y="358" fill="#000" stroke="#000" stroke-width="0.15">33,000</text>
<text x="1218.34 1224.34 1230.87 1234.34 1240.34 1246.34" y="386" fill="#000" stroke="#000" stroke-width="0.15">32,000</text>
<text x="1218.34 1224.34 1230.87 1234.34 1240.34 1246.34" y="413" fill="#000" stroke="#000" stroke-width="0.15">31,000</text>
<text x="1218.84 1225.84 1232.37 1235.84 1242.84 1249.84" y="440" fill="#000" font-weight="bold" stroke="#000" stroke-width="0.4">30,000</text>
<text x="1218.34 1224.34 1230.87 1234.34 1240.34 1246.34" y="468" fill="#000" stroke="#000" stroke-width="0.15">29,000</text>
<text x="1218.34 1224.34 1230.87 1234.34 1240.34 1246.34" y="495" fill="#000" stroke="#000" stroke-width="0.15">28,000</text>
<text x="1218.34 1224.34 1230.87 1234.34 1240.34 1246.34" y="522" fill="#000" stroke="#000" stroke-width="0.15">27,000</text>
<text x="1218.34 1224.34 1230.87 1234.34 1240.34 1246.34" y="550" fill="#000" stroke="#000" stroke-width="0.15">26,000</text>
<text x="1218.34 1224.34 1230.87 1234.34 1240.34 1246.34" y="577" fill="#000" stroke="#000" stroke-width="0.15">25,000</text>
<g shape-rendering="crispEdges"><rect x="1250" y="25" width="8" height="7" fill="#000"/><rect x="1251" y="27" width="6" height="4" fill="#fff"/></g><g shape-rendering="crispEdges"><rect x="1263" y="26" width="1" height="1" fill="#000"/><rect x="1264" y="26" width="1" height="1" fill="#000"/><rect x="1267" y="26" width="1" height="1" fill="#000"/><rect x="1268" y="26" width="1" height="1" fill="#000"/><rect x="1264" y="27" width="1" height="1" fill="#000"/><rect x="1265" y="27" width="1" height="1" fill="#000"/><rect x="1266" y="27" width="1" height="1" fill="#000"/><rect x="1267" y="27" width="1" height="1" fill="#000"/><rect x="1265" y="28" width="1" height="1" fill="#000"/><rect x="1266" y="28" width="1" height="1" fill="#000"/><rect x="1264" y="29" width="1" height="1" fill="#000"/><rect x="1265" y="29" width="1" height="1" fill="#000"/><rect x="1266" y="29" width="1" height="1" fill="#000"/><rect x="1267" y="29" width="1" height="1" fill="#000"/><rect x="1263" y="30" width="1" height="1" fill="#000"/><rect x="1264" y="30" width="1" height="1" fill="#000"/><rect x="1267" y="30" width="1" height="1" fill="#000"/><rect x="1268" y="30" width="1" height="1" fill="#000"/></g>
<g shape-rendering="crispEdges"><rect x="1250" y="607" width="8" height="7" fill="#000"/><rect x="1251" y="609" width="6" height="4" fill="#fff"/></g><g shape-rendering="crispEdges"><rect x="1263" y="608" width="1" height="1" fill="#000"/><rect x="1264" y="608" width="1" height="1" fill="#000"/><rect x="1267" y="608" width="1" height="1" fill="#000"/><rect x="1268" y="608" width="1" height="1" fill="#000"/><rect x="1264" y="609" width="1" height="1" fill="#000"/><rect x="1265" y="609" width="1" height="1" fill="#000"/><rect x="1266" y="609" width="1" height="1" fill="#000"/><rect x="1267" y="609" width="1" height="1" fill="#000"/><rect x="1265" y="610" width="1" height="1" fill="#000"/><rect x="1266" y="610" width="1" height="1" fill="#000"/><rect x="1264" y="611" width="1" height="1" fill="#000"/><rect x="1265" y="611" width="1" height="1" fill="#000"/><rect x="1266" y="611" width="1" height="1" fill="#000"/><rect x="1267" y="611" width="1" height="1" fill="#000"/><rect x="1263" y="612" width="1" height="1" fill="#000"/><rect x="1264" y="612" width="1" height="1" fill="#000"/><rect x="1267" y="612" width="1" height="1" fill="#000"/><rect x="1268" y="612" width="1" height="1" fill="#000"/></g>
<g shape-rendering="crispEdges"><rect x="1250" y="767" width="8" height="7" fill="#000"/><rect x="1251" y="769" width="6" height="4" fill="#fff"/></g><g shape-rendering="crispEdges"><rect x="1263" y="768" width="1" height="1" fill="#000"/><rect x="1264" y="768" width="1" height="1" fill="#000"/><rect x="1267" y="768" width="1" height="1" fill="#000"/><rect x="1268" y="768" width="1" height="1" fill="#000"/><rect x="1264" y="769" width="1" height="1" fill="#000"/><rect x="1265" y="769" width="1" height="1" fill="#000"/><rect x="1266" y="769" width="1" height="1" fill="#000"/><rect x="1267" y="769" width="1" height="1" fill="#000"/><rect x="1265" y="770" width="1" height="1" fill="#000"/><rect x="1266" y="770" width="1" height="1" fill="#000"/><rect x="1264" y="771" width="1" height="1" fill="#000"/><rect x="1265" y="771" width="1" height="1" fill="#000"/><rect x="1266" y="771" width="1" height="1" fill="#000"/><rect x="1267" y="771" width="1" height="1" fill="#000"/><rect x="1263" y="772" width="1" height="1" fill="#000"/><rect x="1264" y="772" width="1" height="1" fill="#000"/><rect x="1267" y="772" width="1" height="1" fill="#000"/><rect x="1268" y="772" width="1" height="1" fill="#000"/></g>
<g shape-rendering="crispEdges"><rect x="1218.5" y="589.5" width="28" height="12" fill="#fff" stroke="#c4c1c8" stroke-width="1"/></g><text x="1219.23 1227.34 1234.37 1238.34" y="600" fill="#c4c1c8" font-weight="bold" stroke="#c4c1c8" stroke-width="0.4">Auto</text>
<rect x="1212" y="598" width="5" height="1" fill="#000"/>
<g shape-rendering="crispEdges"><rect x="1218.5" y="681.5" width="28" height="12" fill="#fff" stroke="#c4c1c8" stroke-width="1"/></g><text x="1219.23 1227.34 1234.37 1238.34" y="692" fill="#c4c1c8" font-weight="bold" stroke="#c4c1c8" stroke-width="0.4">Auto</text>
<rect x="1212" y="687" width="5" height="1" fill="#000"/>
<g shape-rendering="crispEdges"><rect x="1218.5" y="750.5" width="28" height="12" fill="#fff" stroke="#c4c1c8" stroke-width="1"/></g><text x="1219.23 1227.34 1234.37 1238.34" y="761" fill="#c4c1c8" font-weight="bold" stroke="#c4c1c8" stroke-width="0.4">Auto</text>
<g shape-rendering="crispEdges"><rect x="1218.5" y="813.5" width="28" height="12" fill="#fff" stroke="#c4c1c8" stroke-width="1"/></g><text x="1219.23 1227.34 1234.37 1238.34" y="824" fill="#c4c1c8" font-weight="bold" stroke="#c4c1c8" stroke-width="0.4">Auto</text>
<g shape-rendering="crispEdges">
<rect x="1212" y="247" width="61" height="13" fill="#004040"/>
<rect x="1212" y="260" width="61" height="13" fill="#ff0000"/>
<rect x="1212" y="302" width="61" height="13" fill="#004040"/>
<rect x="1212" y="351" width="61" height="13" fill="#004040"/>
</g>
<text x="1211.24 1217.24 1223.77 1227.24 1233.24 1239.24 1245.77 1249.24 1255.24" y="258" fill="#fff" stroke="#fff" stroke-width="0.15">36,430.73</text>
<text x="1211.74 1218.74 1225.27 1228.74 1235.74 1242.74 1249.27 1252.74 1259.74" y="271" fill="#000" font-weight="bold" stroke="#000" stroke-width="0.4">36,190.40</text>
<text x="1211.24 1217.24 1223.77 1227.24 1233.24 1239.24 1245.77 1249.24 1255.24" y="313" fill="#fff" stroke="#fff" stroke-width="0.15">34,631.88</text>
<text x="1211.24 1217.24 1223.77 1227.24 1233.24 1239.24 1245.77 1249.24 1255.24" y="362" fill="#fff" stroke="#fff" stroke-width="0.15">32,833.02</text>
<g shape-rendering="crispEdges">
<rect x="15" y="642" width="1196" height="1" fill="#ff0000"/>
<rect x="15" y="668" width="1196" height="1" fill="#ff0000"/>
<path d="M416 634.5h7m-11 1h4m7 0h2m-16 1h3m13 0h2m-22 1h4m18 0h4m-30 1h4m26 0h4m39 0h8m28 0h5m-118 1h4m34 0h4m28 0h7m8 0h14m6 0h8m5 0h2m-125 1h5m42 0h5m15 0h8m29 0h6m15 0h3m-134 1h6m52 0h15m61 0h4m-140 1h2m138 0h3m-235 1h29m61 0h2m143 0h3m617 0h5m-864 1h4m29 0h2m54 0h5m148 0h2m613 0h2m-863 1h4m35 0h2m46 0h6m155 0h13m17 0h8m22 0h21m529 0h3m-865 1h4m41 0h3m41 0h2m174 0h7m6 0h4m8 0h2m13 0h7m21 0h4m521 0h4m-867 1h5m48 0h6m33 0h2m183 0h6m14 0h13m32 0h5m422 0h10m80 0h4m-869 1h6m59 0h15m13 0h5m255 0h20m397 0h5m10 0h4m72 0h4m-869 1h4m80 0h13m280 0h2m391 0h4m19 0h4m65 0h3m-870 1h5m379 0h2m335 0h20m10 0h24m27 0h4m57 0h4m-897 1h15m7 0h8m386 0h4m296 0h7m18 0h10m20 0h10m55 0h4m49 0h4m-901 1h8m15 0h7m398 0h4m286 0h6m7 0h18m99 0h4m41 0h4m-902 1h5m432 0h3m280 0h3m134 0h3m35 0h3m-902 1h4m440 0h4m272 0h4m140 0h4m6 0h7m14 0h4m-903 1h4m448 0h3m248 0h21m148 0h6m7 0h14m-903 1h4m455 0h3m238 0h7m-710 1h3m462 0h2m230 0h6m-707 1h4m467 0h3m225 0h2m-884 1h14m163 0h6m474 0h4m36 0h7m176 0h2m-868 1h3m153 0h7m484 0h6m7 0h23m7 0h5m153 0h18m-863 1h4m118 0h31m497 0h7m35 0h3m145 0h5m-841 1h4m109 0h5m573 0h2m33 0h7m101 0h2m-832 1h5m102 0h2m580 0h5m15 0h13m7 0h13m85 0h3m-825 1h5m94 0h3m587 0h6m5 0h4m33 0h4m76 0h5m-817 1h28m64 0h2m596 0h5m41 0h4m67 0h5m-784 1h10m52 0h2m648 0h4m59 0h4m-769 1h16m34 0h2m654 0h3m54 0h2m-749 1h5m27 0h2m659 0h3m49 0h2m-742 1h4m21 0h2m664 0h2m-689 1h3m16 0h2m668 0h3m41 0h2m-732 1h3m10 0h3m673 0h4m35 0h2m-727 1h4m4 0h2m680 0h6m27 0h2m-721 1h4m688 0h7m15 0h5m-20 1h15M848.5 669v1" fill="none" stroke="#5533ff" stroke-width="1"/>
<path d="M414 631.5h7m-9 1h2m-6 1h4m-20 1h4m6 0h6m-18 1h2m4 0h6m-14 1h2m-4 1h2m87 0h5m25 0h8m-135 1h8m72 0h2m1 0h2m7 0h5m5 0h3m20 0h2m8 0h3m-221 1h2m76 0h5m77 0h3m8 0h4m13 0h2m3 0h4m9 0h2m640 0h9m-859 1h2m75 0h3m80 0h2m9 0h2m19 0h3m4 0h2m5 0h2m639 0h3m-864 1h2m10 0h2m7 0h2m149 0h2m41 0h5m639 0h2m-863 1h2m2 0h2m4 0h4m11 0h4m130 0h3m10 0h2m685 0h2m-863 1h2m6 0h4m19 0h7m121 0h2m3 0h3m5 0h2m110 0h6m568 0h3m-863 1h2m38 0h2m50 0h2m65 0h2m8 0h2m1 0h2m140 0h11m447 0h7m77 0h4m-862 1h2m42 0h6m42 0h2m65 0h2m124 0h2m27 0h2m11 0h14m428 0h5m80 0h4m-861 1h3m90 0h2m220 0h2m27 0h2m423 0h3m82 0h3m-859 1h2m91 0h2m159 0h5m14 0h3m11 0h2m59 0h3m418 0h2m78 0h7m-897 1h3m35 0h3m81 0h12m178 0h2m3 0h6m3 0h2m20 0h2m42 0h3m12 0h3m303 0h2m76 0h10m7 0h2m78 0h2m-905 1h6m12 0h2m30 0h3m75 0h4m3 0h2m188 0h2m11 0h3m20 0h2m2 0h2m43 0h2m8 0h2m3 0h2m299 0h2m2 0h11m28 0h5m5 0h6m18 0h3m10 0h2m3 0h2m-825 1h2m6 0h2m4 0h2m6 0h2m20 0h8m74 0h4m4 0h3m181 0h2m49 0h2m43 0h8m7 0h2m295 0h2m15 0h2m21 0h5m5 0h5m6 0h5m10 0h3m15 0h3m79 0h2m-911 1h7m10 0h2m12 0h2m2 0h2m1 0h2m91 0h2m194 0h2m2 0h2m105 0h3m256 0h2m69 0h5m26 0h4m3 0h3m-811 1h2m33 0h2m5 0h2m6 0h2m78 0h3m198 0h2m110 0h2m252 0h2m4 0h2m9 0h5m13 0h2m21 0h2m11 0h2m35 0h3m100 0h2m-866 1h3m81 0h2m315 0h2m262 0h5m5 0h3m8 0h2m25 0h11m138 0h2m-963 1h2m50 0h2m48 0h2m77 0h2m578 0h3m13 0h2m3 0h3m157 0h7m10 0h2m-458 1h7m269 0h3m137 0h5m16 0h2m7 0h2m6 0h2m-910 1h2m459 0h2m216 0h3m185 0h3m5 0h4m23 0h2m2 0h2m-910 1h2m519 0h3m154 0h3m3 0h3m194 0h2m7 0h2m14 0h2m-944 1h5m27 0h4m519 0h2m3 0h3m149 0h2m9 0h2m3 0h10m181 0h2m3 0h2m-928 1h2m5 0h4m20 0h3m500 0h8m13 0h2m8 0h2m27 0h3m100 0h2m7 0h3m3 0h2m13 0h3m193 0h3m-1064 1h14m122 0h2m11 0h2m8 0h2m6 0h2m511 0h13m42 0h4m4 0h2m92 0h2m3 0h2m3 0h3m-836 1h2m135 0h2m8 0h2m2 0h2m483 0h5m84 0h4m89 0h2m5 0h3m-689 1h2m1 0h2m5 0h2m490 0h2m0 1h2m100 0h7m-721 1h3m-27 1h8m12 0h4m3 0h2m5 0h4m601 0h2m5 0h2m40 0h2m41 0h2m73 0h2m-811 1h3m8 0h2m6 0h4m9 0h5m4 0h2m14 0h3m587 0h2m44 0h4m-684 1h2m2 0h2m24 0h3m9 0h2m3 0h4m581 0h2m50 0h4m48 0h3m54 0h2m-793 1h2m29 0h2m16 0h3m634 0h2m49 0h3m-707 1h2m2 0h2m13 0h2m634 0h3m-656 1h2m17 0h3m634 0h3m-637 1h4m0 1h2m680 0h2m-682 1h2m680 0h2m34 0h6m-722 1h2m680 0h2m14 0h2m-698 1h3m679 0h2m14 0h2m-697 1h4m677 0h2m14 0h3m-696 1h3m676 0h6m11 0h8M31.5 662v2m1 0v2m55 2v1m37 9v1m1 -4v2m1 -4v2m1 -4v2m1 -4v2m1 -3v1m1 -2v1m1 -2v1m1 -3v2m1 -3v1m1 -2v1m1 -2v1m1 -2v1m1 -2v1m1 -2v1m1 -2v1m1 -2v1m1 -2v1m1 -2v1m1 -2v1m3 1v1m1 0v1m1 0v1m1 0v1m1 0v1m20 3v1m3 -3v1m22 -7v1m3 -3v1m22 -2v1m1 -2v1m3 -3v1m14 0v1m10 2v1m3 -3v1m46 -14v1m1 0v1m1 0v1m21 5v1m1 0v2m1 0v2m1 0v2m1 0v1m43 -11v1m1 -2v1m1 -2v1m52 -10v2m1 0v1m1 0v2m1 0v2m1 0v1m1 0v2m1 0v2m1 0v2m1 0v1m15 -2v1m16 -9v1m3 1v1m53 -1v2m1 0v1m1 0v2m1 0v2m1 0v1m5 1v2m9 0v1m21 -5v1m3 -3v1m7 -1v1m1 0v1m1 0v1m1 0v2m1 0v1m1 0v1m9 0v1m1 -2v1m1 -3v2m1 -3v1m64 6v1m10 2v1m1 0v2m1 0v2m1 0v1m1 0v2m1 0v1m1 -2v1m1 -2v1m1 -2v1m10 1v1m3 1v1m7 -4v2m1 -3v1m1 -3v2m34 -2v1m1 0v1m1 0v2m1 0v1m18 4v1m1 -3v2m1 -4v2m1 -4v2m1 -4v2m1 -3v1m14 -2v1m1 -2v1m1 0v1m1 0v2m1 0v1m1 0v1m1 0v1m3 1v1m1 0v1m1 -2v1m1 -2v1m1 -2v1m7 -1v1m1 0v2m7 2v1m1 0v1m1 0v1m17 4v1m1 -2v1m1 -2v1m1 -2v1m16 2v1m1 -2v1m1 -2v1m7 -3v1m1 -3v2m1 -3v1m1 -2v1m3 -3v1m3 -3v1m1 -2v1m1 -2v1m3 -3v1m44 -5v2m1 -4v2m1 -3v1m5 -4v1m1 0v1m3 1v1m29 -3v1m20 -1v1m99 -7v1m1 0v1m1 0v1m1 0v1m1 0v2m1 0v2m1 0v1m1 0v2m24 0v1m26 -6v1m3 -3v1" fill="none" stroke="#ff0000" stroke-width="1"/>
</g>
<text x="1216.83 1224.44 1230.97 1234.14 1241.44" y="628" fill="#c4c1c8" font-weight="bold" stroke="#c4c1c8" stroke-width="0.4">Value</text>
<text x="1218.94 1224.94" y="661" fill="#000" stroke="#000" stroke-width="0.15">60</text>
<g shape-rendering="crispEdges">
<rect x="1212" y="633" width="61" height="13" fill="#ff0000"/>
<rect x="1212" y="646" width="61" height="13" fill="#5533ff"/>
</g>
<text x="1211.74 1218.74 1225.27 1228.74 1235.74 1242.74" y="644" fill="#000" font-weight="bold" stroke="#000" stroke-width="0.4">74.017</text>
<text x="1211.24 1217.24 1223.77 1227.24 1233.24 1239.24" y="657" fill="#000" stroke="#000" stroke-width="0.15">67.944</text>
<g shape-rendering="crispEdges">
<rect x="15" y="722" width="1196" height="1" fill="#0099ff"/>
<rect x="15" y="748" width="1196" height="1" fill="#0099ff"/>
<path d="M143 715.5h2m126 0h7m836 0h2m28 0h5m-1004 1h2m131 0h3m111 0h2m23 0h3m427 0h6m88 0h2m105 0h2m62 0h2m2 0h5m11 0h12m5 0h3m-871 1h2m107 0h2m2 0h2m17 0h4m3 0h2m40 0h2m131 0h3m255 0h2m88 0h2m101 0h2m2 0h2m58 0h2m9 0h11m-918 1h3m153 0h12m4 0h4m6 0h7m6 0h4m45 0h2m4 0h7m4 0h4m114 0h2m3 0h2m444 0h2m-844 1h12m3 0h2m65 0h2m6 0h8m82 0h4m17 0h2m2 0h2m62 0h4m4 0h2m30 0h2m50 0h2m291 0h2m88 0h2m-683 1h2m23 0h2m8 0h3m102 0h2m106 0h2m45 0h3m478 0h2m-823 1h2m38 0h5m22 0h3m268 0h2m423 0h2m-763 1h3m0 1h2m256 0h2m271 0h2m114 0h2m1 0h2m109 0h2m115 0h2m-878 1h2m118 0h6m11 0h2m119 0h2m60 0h5m2 0h2m314 0h2m116 0h2m109 0h4m-874 1h2m122 0h2m7 0h2m188 0h2m351 0h2m83 0h2m32 0h2m69 0h4m-868 1h2m122 0h7m337 0h3m165 0h2m34 0h2m187 0h3m-399 1h3m166 0h2m34 0h2m124 0h2m0 1h3m2 0h2m-4 1h2m-587 1h2m260 0h4m-268 1h2m45 0h2m212 0h3m4 0h3m194 0h2m-196 1h3m0 1h2m192 0h2m-847 1h2m426 0h2m2 0h2m413 0h6m-423 1h2m421 0h2m-858 1h2m-4 1h2m-4 1h2m862 0h5m-743 1h2m242 0h2m204 0h3m-204 1h2m196 0h3m3 0h2m137 0h2m-685 1h2m336 0h2m196 0h2m-540 1h2m482 0h2m50 0h2m150 0h2m-156 1h2m154 0h2m105 0h3m-651 1h2m380 0h3m260 0h3m-646 1h2m375 0h3m21 0h2m-594 1h2m107 0h2m-113 1h2m111 0h2m482 0h3m354 0h4m-962 1h4m54 0h2m544 0h2m-611 1h5m120 0h2m7 0h2m475 0h2m3 0h17m134 0h6m-792 1h19m127 0h7m353 0h2m124 0h3m17 0h2m59 0h2m53 0h3m13 0h2m6 0h2m-488 1h2m346 0h2m2 0h2m111 0h3m20 0h2m246 0h2m-1051 1h2m2 0h2m304 0h3m350 0h2m48 0h2m346 0h2m-1061 1h2m91 0h3m10 0h2m198 0h2m742 0h2m4 0h3m-963 1h10m946 0h4m-273 1h2m21 0h2M15.5 749v1m1 0v2m7 -1v1m33 -8v2m1 -3v1m1 -2v1m1 -3v2m1 -3v1m7 -5v1m3 -3v1m1 0v2m1 0v1m1 0v1m1 0v1m1 0v2m1 0v1m1 0v1m1 0v2m1 0v2m1 0v1m1 0v2m1 0v1m1 0v2m1 0v1m1 -2v1m1 -2v1m1 -2v1m1 -2v1m1 -3v2m1 -3v1m1 -2v1m1 -2v1m1 -2v1m5 -4v1m1 0v1m1 0v1m1 0v1m1 0v1m1 0v1m1 0v1m1 0v1m3 1v1m1 0v1m1 0v1m1 0v1m16 -2v2m1 -3v1m1 -3v2m1 -4v2m1 -4v2m1 -4v2m1 -4v2m1 -4v2m1 -5v3m1 -5v2m1 -4v2m1 -4v2m1 -5v3m1 -6v3m1 -6v3m1 -6v3m1 -4v1m4 0v1m1 0v1m1 0v2m1 0v2m1 0v2m1 0v3m1 0v2m1 0v2m1 0v2m1 0v2m1 0v3m1 0v2m1 0v2m1 0v1m1 0v1m1 0v1m5 2v1m12 -1v1m1 -2v1m1 -2v1m1 -2v1m1 -2v1m1 -3v2m1 -3v1m1 -2v1m3 -4v2m1 -4v2m1 -4v2m1 -4v2m1 -3v1m1 -3v2m1 -3v1m1 -2v1m1 -3v2m1 -3v1m1 -2v1m1 -2v1m1 -2v1m18 -1v1m14 6v1m1 0v2m1 0v2m1 0v1m1 0v2m1 0v2m1 0v1m1 0v2m1 0v2m1 0v2m5 2v1m1 -3v2m1 -3v1m1 -2v1m1 -3v2m1 -4v2m1 -4v2m1 -4v2m1 -4v2m1 -4v2m1 -4v2m1 -5v3m1 -5v2m1 -3v1m7 -4v1m1 -2v1m1 -2v1m1 -2v1m13 1v1m3 1v1m16 0v1m1 0v2m1 0v1m1 0v1m1 0v1m1 0v1m1 0v1m1 0v1m1 0v1m1 0v1m1 0v1m1 0v2m1 0v2m1 0v2m1 0v1m1 0v2m1 0v2m1 0v1m1 0v2m1 0v1m1 0v1m1 0v2m1 0v2m8 -3v1m1 -3v2m1 -4v2m1 -4v2m1 -4v2m1 -4v2m1 -4v2m1 -3v1m1 -3v2m1 -4v2m1 -3v1m1 -3v2m1 -4v2m1 -3v1m1 -3v2m20 -5v2m1 -3v1m1 -2v1m1 -2v1m53 -2v1m1 0v2m1 0v2m1 0v2m1 0v2m1 0v4m1 0v4m1 0v3m1 0v1m3 1v1m5 -2v1m1 -2v1m1 -3v2m1 -3v1m1 -2v1m1 -2v1m1 -2v1m5 -4v1m1 -2v1m1 -2v1m1 -2v1m1 -2v1m1 -3v2m1 -3v1m1 -3v2m1 -3v1m3 -3v1m1 -2v1m20 3v2m1 0v1m5 2v1m1 0v1m1 0v2m1 0v1m1 0v1m3 1v1m1 0v1m7 -1v1m1 -3v2m1 -4v2m1 -4v2m1 -4v2m1 -4v2m1 -3v1m1 -2v1m1 -2v1m5 0v2m1 0v2m1 0v2m1 0v2m1 0v2m1 0v3m1 0v2m1 0v2m1 0v3m1 0v2m1 0v2m1 0v2m1 0v2m1 0v2m1 0v1m3 -3v1m1 -2v1m1 -2v1m1 -3v2m1 -4v2m1 -4v2m1 -4v2m1 -4v2m1 -4v2m1 -4v2m1 -4v2m1 -4v2m1 -3v1m1 -3v2m1 -3v1m10 -3v1m1 -2v1m8 -3v1m1 0v1m1 0v2m1 0v2m1 0v2m1 0v1m1 0v1m1 0v2m1 0v1m1 0v2m1 0v2m1 0v2m1 0v2m1 0v1m1 1v1m1 -4v2m1 -4v2m1 -3v1m1 -2v1m1 -3v2m1 -3v1m1 -2v1m1 -3v2m1 -4v2m1 -4v2m1 -4v2m1 -5v3m1 -5v2m8 -2v1m1 0v1m1 0v1m1 0v1m1 0v1m1 0v1m1 0v1m1 0v2m1 0v1m1 0v1m1 0v2m1 0v1m1 0v1m1 0v2m1 0v2m1 0v1m1 0v1m1 0v1m1 0v1m1 0v1m1 0v1m1 0v1m21 -4v1m1 0v1m1 0v1m1 0v1m3 1v1m36 2v2m1 -4v2m1 -5v3m1 -6v3m1 -5v2m1 -5v3m1 -5v2m1 -4v2m1 -3v1m1 -2v1m1 -2v1m1 -2v1m7 -2v1m1 0v1m1 0v1m1 0v1m15 3v1m1 0v3m1 0v3m1 0v2m1 0v2m1 0v1m1 0v2m1 0v1m1 0v2m1 0v1m3 1v1m1 0v1m1 -2v1m1 -2v1m1 -2v1m3 -3v1m1 -2v1m1 -3v2m1 -3v1m1 -3v2m1 -4v2m1 -4v2m1 -4v2m1 -4v2m1 -4v2m1 -4v2m1 -4v2m1 -3v1m1 -2v1m1 -2v1m1 -2v1m1 -2v1m3 -3v1m1 0v2m1 0v1m1 0v1m1 0v2m1 0v1m1 0v2m1 0v2m1 0v2m1 0v2m1 0v1m1 0v1m1 0v1m1 0v1m1 0v1m1 0v1m1 0v1m1 -2v1m1 -3v2m1 -3v1m1 -2v1m3 1v1m5 2v1m1 0v1m1 0v1m1 0v1m1 0v1m1 0v1m7 2v1m1 0v2m1 0v1m1 0v1m3 -3v1m1 -2v1m1 -2v1m1 -2v1m13 0v1m1 0v1m1 0v1m1 0v1m1 0v1m3 -3v1m1 -2v1m1 -2v1m1 -2v1m1 -2v1m1 -3v2m1 -3v1m1 -3v2m1 -4v2m1 -4v2m1 -5v3m1 -5v2m1 -4v2m1 -5v3m1 -5v2m1 -4v2m1 -4v2m1 -6v4m1 -6v2m1 -4v2m9 -1v1m3 1v1m1 0v1m1 0v1m1 0v1m1 0v1m1 0v1m1 0v1m5 -2v1m5 -4v1m3 1v2m1 0v2m1 0v2m1 0v1m1 0v2m1 0v2m1 0v2m1 0v2m1 0v2m1 0v1m1 0v2m6 -2v1m1 -3v2m1 -5v3m1 -5v2m1 -4v2m1 -3v1m1 -3v2m1 -4v2m7 -4v2m1 0v2m1 0v1m3 1v1m11 3v1m1 0v1m6 -2v2m1 -4v2m1 -3v1m1 -3v2m1 -4v2m1 -4v2m1 -4v2m1 -4v2m1 -4v2m1 -4v2m1 -4v2m5 -1v1m3 1v1m1 0v1m1 0v2m1 0v2m1 0v2m1 0v1m1 0v2m1 0v2m1 0v3m1 0v4m1 0v3m1 0v1m1 0v2m1 0v2m1 0v1m1 0v2m1 0v1m1 0v1m1 -3v2m1 -4v2m1 -4v2m1 -4v2m1 -4v2m1 -5v3m1 -5v2m1 -4v2m1 -4v2m1 -4v2m1 -4v2m1 -4v2m1 -3v1m1 -3v2m1 -3v1m1 -3v2m1 -3v1m3 1v1m7 3v1m1 0v2m1 0v2m1 0v1m1 0v1m1 0v2m1 0v1m1 0v2m1 0v2m1 0v2m1 0v1m1 0v1m1 0v2m1 0v1m5 -1v1m1 -3v2m1 -3v1m1 -3v2m1 -4v2m1 -4v2m1 -5v3m1 -5v2m1 -4v2m1 -4v2m1 -3v1m1 -2v1m1 -2v1m1 -2v1m3 1v1m10 0v1m1 -2v1m1 -3v2m1 -4v2m1 -3v1m3 -3v1m9 -2v2m1 0v1m1 0v2m1 0v4m1 0v3m1 0v3m1 0v3m1 0v3m1 0v3m1 0v2m1 0v2m1 0v2m1 0v2m1 0v1m3 1v1m12 -2v1m1 -2v1m1 -3v2m1 -4v2m1 -4v2m1 -6v4m1 -7v3m1 -5v2m1 -4v2m1 -4v2m1 -4v2m1 -4v2m14 -7v1m1 -2v1m1 -2v1m1 -2v1m1 -2v1" fill="none" stroke="#0099ff" stroke-width="1"/>
<path d="M276 716.5h7m834 0h8m17 0h10m-878 1h2m7 0h2m105 0h13m14 0h5m433 0h3m267 0h17m-870 1h2m11 0h4m88 0h13m13 0h2m3 0h9m5 0h2m41 0h8m129 0h2m254 0h2m88 0h3m163 0h2m-905 1h10m68 0h4m82 0h2m28 0h3m16 0h2m37 0h2m8 0h9m118 0h2m250 0h2m92 0h2m3 0h2m97 0h2m1 0h2m-904 1h2m55 0h3m10 0h2m70 0h10m70 0h2m86 0h2m19 0h2m460 0h2m102 0h2m-903 1h2m57 0h2m15 0h2m78 0h2m210 0h2m48 0h3m294 0h2m-639 1h2m78 0h2m63 0h2m113 0h2m30 0h2m42 0h4m3 0h2m37 0h2m255 0h2m243 0h2m-884 1h3m138 0h2m188 0h3m305 0h2m239 0h2m-879 1h4m132 0h2m188 0h2m310 0h2m3 0h6m110 0h4m111 0h3m-873 1h2m118 0h12m123 0h2m379 0h3m6 0h2m106 0h2m53 0h2m58 0h2m-753 1h3m406 0h3m222 0h2m42 0h2m9 0h2m58 0h2m-550 1h2m203 0h3m3 0h2m262 0h2m2 0h2m5 0h2m-337 1h6m200 0h2m122 0h5m-329 1h2m200 0h3m-203 1h3m192 0h2m6 0h2m-421 1h2m8 0h2m207 0h7m195 0h2m-421 1h2m4 0h2m193 0h2m218 0h2m-473 1h2m50 0h4m417 0h3m0 1h2m0 1h3m4 0h2m-863 1h5m511 0h2m339 0h4m-864 1h3m513 0h3m-146 1h3m137 0h3m-519 1h2m371 0h3m334 0h2m-136 1h2m134 0h2m-533 1h2m391 0h2m2 0h2m134 0h4m110 0h5m-798 1h2m146 0h2m3 0h2m370 0h3m8 0h3m6 0h3m135 0h6m-687 1h3m145 0h3m277 0h2m96 0h8m12 0h2m139 0h2m217 0h2m-913 1h2m6 0h2m543 0h2m-545 1h2m424 0h3m2 0h2m252 0h2m179 0h2m36 0h5m-959 1h2m35 0h2m440 0h2m256 0h2m171 0h2m2 0h2m-919 1h3m126 0h2m142 0h2m325 0h2m313 0h2m-921 1h4m32 0h2m3 0h2m236 0h2m325 0h2m28 0h2m-668 1h2m23 0h5m38 0h3m83 0h3m3 0h2m476 0h2m13 0h8m3 0h2m-664 1h2m9 0h12m67 0h2m63 0h3m152 0h2m326 0h13m8 0h3m51 0h2m3 0h2m76 0h3m-797 1h9m704 0h3m60 0h2m13 0h3m3 0h2m-708 1h2m696 0h2m8 0h3m5 0h2m249 0h2m-967 1h2m8 0h2m674 0h10m13 0h5m242 0h2m-956 1h8m948 0h2m2 0h2m-4 1h2M15.5 739v2m1 0v3m1 0v2m1 0v2m1 0v1m40 -4v1m1 -2v1m1 -2v1m1 -2v1m1 -2v1m1 -2v1m3 -3v1m9 -2v2m1 0v1m1 0v1m1 0v1m1 0v1m1 0v1m1 0v1m1 0v1m1 0v1m1 0v1m8 -1v1m3 -3v1m3 -3v1m10 2v2m1 0v1m1 0v1m3 1v1m15 -1v2m1 -3v1m1 -2v1m1 -3v2m1 -3v1m1 -3v2m1 -3v1m1 -3v2m1 -3v1m1 -3v2m1 -4v2m1 -5v3m1 -6v3m1 -5v2m1 -4v2m1 -3v1m1 -3v2m1 -3v1m3 -3v1m1 -2v1m3 1v1m1 0v2m1 0v1m1 0v2m1 0v2m1 0v2m1 0v2m1 0v2m1 0v1m1 0v2m1 0v1m1 0v1m1 0v1m1 0v1m1 0v1m1 0v1m1 0v1m1 0v1m1 0v1m1 0v1m1 0v1m9 -1v1m3 -3v1m1 -2v1m1 -2v1m1 -2v1m1 -2v1m1 -3v2m1 -3v1m1 -3v2m1 -3v1m1 -2v1m1 -3v2m1 -3v1m1 -2v1m1 -2v1m1 -3v2m1 -3v1m1 -2v1m1 -2v1m1 -2v1m1 -2v1m1 -2v1m31 3v2m1 0v1m1 0v1m1 0v1m1 0v2m1 0v2m1 0v1m1 0v2m1 0v1m1 0v2m10 0v1m1 -2v1m1 -2v1m1 -3v2m1 -4v2m1 -4v2m1 -3v1m1 -3v2m1 -3v1m1 -3v2m1 -3v1m1 -2v1m1 -3v2m1 -3v1m1 -2v1m1 -2v1m1 -2v1m36 3v1m1 0v1m1 0v1m1 0v1m1 0v1m1 0v1m1 0v1m1 0v2m1 0v1m1 0v1m1 0v2m1 0v2m1 0v1m1 0v1m1 0v2m1 0v1m1 0v1m1 0v1m1 0v1m1 0v1m5 2v1m3 1v1m1 -2v1m1 -2v1m1 -2v1m1 -3v2m1 -3v1m1 -2v1m1 -3v2m1 -4v2m1 -4v2m1 -3v1m1 -3v2m1 -3v1m1 -3v2m1 -3v1m1 -3v2m1 -4v2m22 -8v1m54 -2v2m1 0v2m1 0v2m1 0v2m1 0v2m1 0v2m1 0v1m1 0v2m1 0v1m1 0v1m1 0v1m1 0v1m7 -3v2m1 -3v1m1 -2v1m3 -3v1m1 -2v1m1 -2v1m1 -2v1m1 -2v1m1 -2v1m1 -2v1m1 -2v1m1 -2v1m1 -2v1m1 -2v1m1 -2v1m24 -1v1m3 1v1m1 0v1m3 1v1m1 0v1m1 0v2m1 0v1m13 -1v1m1 -2v1m1 -3v2m1 -3v1m1 -2v1m1 -2v1m1 -2v1m1 -2v1m5 0v2m1 0v2m1 0v2m1 0v1m1 0v2m1 0v2m1 0v2m1 0v2m1 0v2m1 0v2m1 0v1m3 1v1m8 -1v1m1 -3v2m1 -4v2m1 -4v2m1 -4v2m1 -3v1m1 -3v2m1 -3v1m1 -2v1m1 -2v1m1 -2v1m1 -2v1m3 -3v1m1 -2v1m15 -3v1m1 0v1m1 0v2m1 0v1m1 0v1m1 0v2m1 0v2m1 0v1m1 0v1m1 0v2m1 0v1m9 -3v1m1 -3v2m1 -4v2m1 -3v1m1 -3v2m1 -3v1m1 -3v2m1 -3v1m1 -2v1m1 -3v2m1 -3v1m5 -2v1m1 0v1m1 0v1m3 1v1m1 0v1m1 0v1m1 0v2m1 0v1m1 0v1m1 0v1m1 0v2m1 0v1m1 0v1m1 0v1m1 0v2m1 0v1m1 0v1m1 0v1m1 0v1m28 3v1m1 0v1m35 0v1m1 -2v1m1 -3v2m1 -4v2m1 -4v2m1 -3v1m1 -3v2m1 -3v1m1 -3v2m1 -3v1m3 -3v1m1 -2v1m1 -2v1m19 2v1m1 0v1m1 0v1m1 0v2m1 0v1m1 0v2m1 0v1m1 0v2m1 0v1m1 0v2m1 0v1m1 0v1m1 0v1m1 0v1m8 -1v1m1 -2v1m1 -2v1m1 -2v1m1 -2v1m1 -3v2m1 -4v2m1 -4v2m1 -4v2m1 -4v2m1 -4v2m1 -4v2m1 -3v1m1 -2v1m1 -2v1m9 -1v1m1 0v1m1 0v1m1 0v1m1 0v1m1 0v2m1 0v1m1 0v1m1 0v1m1 0v1m17 5v1m5 2v1m1 0v1m1 0v1m1 0v1m3 1v1m31 -2v1m1 -3v2m1 -3v1m1 -2v1m1 -3v2m1 -4v2m1 -4v2m1 -4v2m1 -4v2m1 -4v2m1 -4v2m1 -4v2m1 -4v2m1 -4v2m1 -3v1m1 -3v2m1 -3v1m1 -3v2m1 -3v1m3 -3v1m6 0v1m1 0v1m20 5v1m1 0v1m1 0v1m1 0v1m1 0v1m1 0v1m1 0v2m1 0v1m1 0v2m1 0v1m1 0v2m1 0v1m6 -1v1m1 -3v2m1 -3v1m1 -2v1m1 -2v1m1 -3v2m1 -3v1m1 -2v1m3 -3v1m26 4v1m1 -2v1m1 -2v1m1 -2v1m1 -3v2m1 -3v1m1 -3v2m1 -3v1m1 -3v2m1 -4v2m10 -3v1m1 0v2m1 0v1m1 0v2m1 0v3m1 0v2m1 0v1m1 0v2m1 0v4m1 0v2m1 0v2m1 0v1m1 0v2m1 0v1m8 -2v1m1 -3v2m1 -4v2m1 -4v2m1 -4v2m1 -4v2m1 -4v2m1 -3v1m1 -2v1m1 -3v2m1 -3v1m9 -3v1m1 0v1m1 0v1m1 0v1m1 0v1m1 0v1m1 0v1m1 0v1m1 0v2m1 0v1m1 0v2m1 0v1m1 0v2m1 0v1m1 0v1m3 1v1m6 -2v2m1 -3v1m1 -3v2m1 -3v1m1 -3v2m1 -4v2m1 -4v2m1 -3v1m1 -3v2m1 -3v1m1 -2v1m18 -5v1m1 -2v1m1 -2v1m1 -2v1m5 -4v1m3 1v2m1 0v2m1 0v2m1 0v1m1 0v2m1 0v2m1 0v2m1 0v2m1 0v2m1 0v2m1 0v2m1 0v2m1 0v2m1 0v1m1 0v2m1 0v1m1 0v2m1 0v2m9 0v1m3 -3v1m1 -3v2m1 -4v2m1 -4v2m1 -3v1m1 -3v2m1 -4v2m1 -4v2m1 -3v1m1 -3v2m1 -3v1m1 -3v2m1 -3v1m1 -2v1m1 -3v2m1 -3v1m12 -7v1m1 -2v1m1 -2v1m3 -3v1" fill="none" stroke="#ff3300" stroke-width="1"/>
<rect x="1212" y="697" width="61" height="13" fill="#ff3300"/>
<rect x="1212" y="710" width="61" height="13" fill="#0099ff"/>
</g>
<text x="1211.24 1217.24 1223.77 1227.24 1233.24 1239.24" y="708" fill="#000" stroke="#000" stroke-width="0.15">94.991</text>
<text x="1211.74 1218.74 1225.27 1228.74 1235.74 1242.74" y="721" fill="#000" font-weight="bold" stroke="#000" stroke-width="0.4">93.642</text>
<text x="1215.83 1222.53 1230.03" y="735" fill="#c4c1c8" font-weight="bold" stroke="#c4c1c8" stroke-width="0.4">PKR</text>
<text x="1216.83 1224.44 1230.97 1234.14 1241.44" y="788.5" fill="#c4c1c8" font-weight="bold" stroke="#c4c1c8" stroke-width="0.4">Value</text>
<g shape-rendering="crispEdges">
<rect x="15" y="793" width="1196" height="1" fill="#e8e000"/>
<path d="M476 781.5h12m-22 1h10m12 0h32m-107 1h53m54 0h2m-119 1h10m109 0h2m-126 1h5m121 0h7m-138 1h5m133 0h12m35 0h40m-323 1h31m58 0h9m150 0h35m40 0h5m-338 1h10m31 0h8m41 0h9m239 0h10m-354 1h6m49 0h6m29 0h6m258 0h13m376 0h30m87 0h13m-882 1h9m61 0h29m277 0h6m327 0h43m30 0h11m72 0h4m-882 1h13m382 0h4m283 0h40m84 0h10m54 0h8m-912 1h34m399 0h3m276 0h4m134 0h27m15 0h12m-910 1h6m436 0h4m266 0h6m165 0h15m-904 1h6m446 0h5m249 0h12m-914 1h5m186 0h5m457 0h6m235 0h8m-897 1h8m172 0h6m468 0h6m13 0h34m179 0h3m-881 1h14m152 0h6m480 0h13m34 0h4m171 0h4m-864 1h21m103 0h28m537 0h5m21 0h7m135 0h3m-839 1h25m63 0h15m570 0h6m7 0h8m7 0h8m124 0h3m-811 1h27m28 0h8m591 0h7m23 0h9m111 0h4m-781 1h5m19 0h4m638 0h5m102 0h4m-772 1h7m7 0h5m647 0h2m95 0h5m-761 1h7m654 0h2m89 0h4m-93 1h2m84 0h3m-7 1h4m-83 1h2m74 0h3m-77 1h2m70 0h2m-5 1h3m-69 1h2m62 0h2m-64 1h2m57 0h3m-60 1h2m52 0h3m-55 1h3m45 0h4m-49 1h2m41 0h2m-43 1h3m36 0h2m-38 1h3m0 1h2m0 1h3m24 0h2m-26 1h2m20 0h2m-22 1h2m14 0h4m-18 1h14M792.5 805v1m5 2v1m49 7v1m1 -2v1" fill="none" stroke="#e8e000" stroke-width="1"/>
<path d="M476 782.5h46m-56 1h10m46 0h6m-115 1h53m62 0h5m-130 1h10m120 0h10m-145 1h5m140 0h35m13 0h30m-228 1h5m180 0h13m30 0h25m-348 1h39m47 0h9m253 0h7m-361 1h6m39 0h47m269 0h5m-376 1h10m366 0h8m360 0h48m71 0h7m-882 1h12m384 0h7m294 0h59m48 0h8m57 0h6m-888 1h13m403 0h4m276 0h14m115 0h57m-907 1h25m420 0h4m263 0h9m-732 1h11m449 0h12m245 0h6m-731 1h8m472 0h21m219 0h5m-923 1h22m170 0h6m501 0h19m195 0h5m-896 1h9m151 0h10m526 0h14m176 0h5m-882 1h17m120 0h14m550 0h15m156 0h5m-860 1h25m63 0h32m579 0h15m137 0h4m-830 1h31m22 0h10m626 0h10m124 0h3m-795 1h22m646 0h5m115 0h4m-119 1h2m110 0h3m-113 1h3m104 0h3m-107 1h2m98 0h4m-102 1h3m91 0h4m-95 1h4m82 0h5m-87 1h3m75 0h4m-79 1h3m69 0h3m-72 1h2m63 0h4m-67 1h3m57 0h3m-60 1h2m52 0h3m-55 1h3m45 0h4m-49 1h4m37 0h4m-41 1h3m29 0h5m-34 1h6m9 0h14m-23 1h9" fill="none" stroke="#00ccff" stroke-width="1"/>
<rect x="1212" y="783" width="61" height="13" fill="#e8e000"/>
<rect x="1212" y="796" width="61" height="13" fill="#00ccff"/>
</g>
<text x="1211.74 1218.74 1225.74 1232.27 1235.74 1242.74" y="794" fill="#000" font-weight="bold" stroke="#000" stroke-width="0.4">555.57</text>
<text x="1211.24 1217.24 1223.24 1229.77 1233.24 1239.24" y="807" fill="#000" stroke="#000" stroke-width="0.15">372.80</text>
<g shape-rendering="crispEdges">
<rect x="39" y="828" width="1" height="3" fill="#000"/>
<rect x="93" y="828" width="1" height="3" fill="#000"/>
<rect x="125" y="828" width="1" height="3" fill="#000"/>
<rect x="175" y="828" width="1" height="3" fill="#000"/>
<rect x="212" y="828" width="1" height="3" fill="#000"/>
<rect x="261" y="828" width="1" height="3" fill="#000"/>
<rect x="312" y="828" width="1" height="3" fill="#000"/>
<rect x="366" y="828" width="1" height="3" fill="#000"/>
<rect x="417" y="828" width="1" height="3" fill="#000"/>
<rect x="461" y="828" width="1" height="3" fill="#000"/>
<rect x="507" y="828" width="1" height="3" fill="#000"/>
<rect x="556" y="828" width="1" height="3" fill="#000"/>
<rect x="606" y="828" width="1" height="3" fill="#000"/>
<rect x="661" y="828" width="1" height="3" fill="#000"/>
<rect x="702" y="828" width="1" height="3" fill="#000"/>
<rect x="747" y="828" width="1" height="3" fill="#000"/>
<rect x="792" y="828" width="1" height="3" fill="#000"/>
<rect x="842" y="828" width="1" height="3" fill="#000"/>
<rect x="892" y="828" width="1" height="3" fill="#000"/>
<rect x="942" y="828" width="1" height="3" fill="#000"/>
<rect x="988" y="828" width="1" height="3" fill="#000"/>
<rect x="1015" y="828" width="1" height="3" fill="#000"/>
<rect x="1065" y="828" width="1" height="3" fill="#000"/>
<rect x="1115" y="828" width="1" height="3" fill="#000"/>
<rect x="1166" y="828" width="1" height="3" fill="#000"/>
<rect x="93" y="844" width="1" height="13" fill="#000"/>
<rect x="175" y="844" width="1" height="13" fill="#000"/>
<rect x="261" y="844" width="1" height="13" fill="#000"/>
<rect x="366" y="844" width="1" height="13" fill="#000"/>
<rect x="461" y="844" width="1" height="13" fill="#000"/>
<rect x="556" y="844" width="1" height="13" fill="#000"/>
<rect x="661" y="844" width="1" height="13" fill="#000"/>
<rect x="747" y="844" width="1" height="13" fill="#000"/>
<rect x="842" y="844" width="1" height="13" fill="#000"/>
<rect x="942" y="844" width="1" height="13" fill="#000"/>
<rect x="1015" y="844" width="1" height="13" fill="#000"/>
<rect x="1115" y="844" width="1" height="13" fill="#000"/>
</g>
<text x="34.94 40.94" y="841" fill="#000" stroke="#000" stroke-width="0.15">16</text>
<text x="88.94 94.94" y="841" fill="#000" stroke="#000" stroke-width="0.15">01</text>
<text x="120.94 126.94" y="841" fill="#000" stroke="#000" stroke-width="0.15">16</text>
<text x="170.94 176.94" y="841" fill="#000" stroke="#000" stroke-width="0.15">02</text>
<text x="207.94 213.94" y="841" fill="#000" stroke="#000" stroke-width="0.15">16</text>
<text x="256.94 262.94" y="841" fill="#000" stroke="#000" stroke-width="0.15">01</text>
<text x="307.94 313.94" y="841" fill="#000" stroke="#000" stroke-width="0.15">16</text>
<text x="361.94 367.94" y="841" fill="#000" stroke="#000" stroke-width="0.15">01</text>
<text x="412.94 418.94" y="841" fill="#000" stroke="#000" stroke-width="0.15">18</text>
<text x="456.94 462.94" y="841" fill="#000" stroke="#000" stroke-width="0.15">02</text>
<text x="502.94 508.94" y="841" fill="#000" stroke="#000" stroke-width="0.15">16</text>
<text x="551.94 557.94" y="841" fill="#000" stroke="#000" stroke-width="0.15">01</text>
<text x="601.94 607.94" y="841" fill="#000" stroke="#000" stroke-width="0.15">16</text>
<text x="656.94 662.94" y="841" fill="#000" stroke="#000" stroke-width="0.15">03</text>
<text x="697.94 703.94" y="841" fill="#000" stroke="#000" stroke-width="0.15">17</text>
<text x="742.94 748.94" y="841" fill="#000" stroke="#000" stroke-width="0.15">02</text>
<text x="787.94 793.94" y="841" fill="#000" stroke="#000" stroke-width="0.15">16</text>
<text x="837.94 843.94" y="841" fill="#000" stroke="#000" stroke-width="0.15">01</text>
<text x="887.94 893.94" y="841" fill="#000" stroke="#000" stroke-width="0.15">16</text>
<text x="937.94 943.94" y="841" fill="#000" stroke="#000" stroke-width="0.15">04</text>
<text x="983.94 989.94" y="841" fill="#000" stroke="#000" stroke-width="0.15">18</text>
<text x="1010.94 1016.94" y="841" fill="#000" stroke="#000" stroke-width="0.15">01</text>
<text x="1060.94 1066.94" y="841" fill="#000" stroke="#000" stroke-width="0.15">16</text>
<text x="1110.94 1116.94" y="841" fill="#000" stroke="#000" stroke-width="0.15">01</text>
<text x="1161.94 1167.94" y="841" fill="#000" stroke="#000" stroke-width="0.15">16</text>
<text x="36.44 42.64 49.47 52.47 55.94 62.94" y="854" fill="#000" font-weight="bold" stroke="#000" stroke-width="0.4">Jul 19</text>
<text x="114.03 122.14 129.14 135.97 139.44 146.44" y="854" fill="#000" font-weight="bold" stroke="#000" stroke-width="0.4">Aug 19</text>
<text x="198.33 205.94 212.64 219.47 222.94 229.94" y="854" fill="#000" font-weight="bold" stroke="#000" stroke-width="0.4">Sep 19</text>
<text x="295.22 303.44 309.67 313.47 316.94 323.94" y="854" fill="#000" font-weight="bold" stroke="#000" stroke-width="0.4">Oct 19</text>
<text x="394.03 402.14 408.94 414.97 418.44 425.44" y="854" fill="#000" font-weight="bold" stroke="#000" stroke-width="0.4">Nov 19</text>
<text x="489.03 497.44 503.94 509.97 513.44 520.44" y="854" fill="#000" font-weight="bold" stroke="#000" stroke-width="0.4">Dec 19</text>
<text x="589.44 595.94 602.64 609.47 612.94 619.94" y="854" fill="#000" font-weight="bold" stroke="#000" stroke-width="0.4">Jan 20</text>
<text x="684.64 691.44 698.14 704.97 708.44 715.44" y="854" fill="#000" font-weight="bold" stroke="#000" stroke-width="0.4">Feb 20</text>
<text x="774.92 784.94 791.86 796.47 799.94 806.94" y="854" fill="#000" font-weight="bold" stroke="#000" stroke-width="0.4">Mar 20</text>
<text x="873.03 881.14 888.36 892.97 896.44 903.44" y="854" fill="#000" font-weight="bold" stroke="#000" stroke-width="0.4">Apr 20</text>
<text x="958.42 968.44 974.94 980.97 984.44 991.44" y="854" fill="#000" font-weight="bold" stroke="#000" stroke-width="0.4">May 20</text>
<text x="1045.94 1052.14 1059.14 1065.97 1069.44 1076.44" y="854" fill="#000" font-weight="bold" stroke="#000" stroke-width="0.4">Jun 20</text>
<text x="1145.94 1152.14 1158.97 1161.97 1165.44 1172.44" y="854" fill="#000" font-weight="bold" stroke="#000" stroke-width="0.4">Jul 20</text>
</svg></body></html>
